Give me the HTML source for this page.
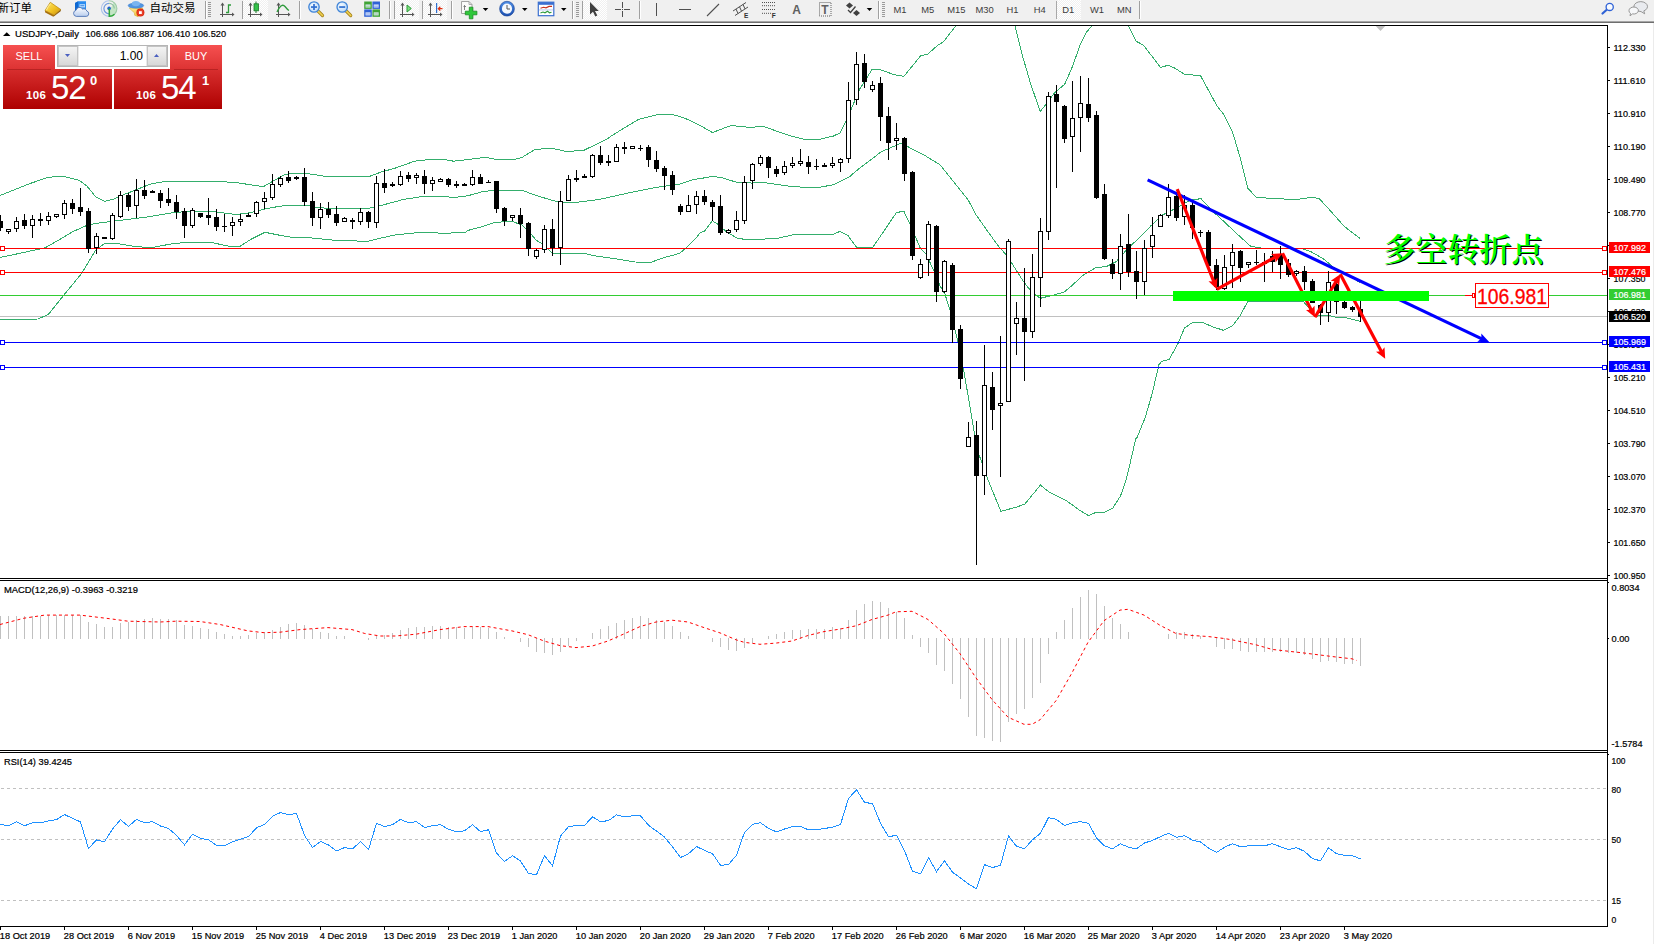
<!DOCTYPE html>
<html lang="zh"><head><meta charset="utf-8"><title>USDJPY Daily</title>
<style>
html,body{margin:0;padding:0;background:#fff;}
body{width:1654px;height:944px;overflow:hidden;position:relative;font-family:"Liberation Sans","Noto Sans CJK SC",sans-serif;}
#tb{position:absolute;left:0;top:0;width:1654px;height:21px;background:#f0f0f0;}
#tbl1{position:absolute;left:0;top:21px;width:1654px;height:1px;background:#a6a6a6;}
#tbl2{position:absolute;left:0;top:22px;width:1654px;height:1px;background:#6e6e6e;}
#redge{position:absolute;left:1653px;top:23px;width:1px;height:921px;background:#ebebeb}
#w{position:absolute;left:3px;top:45px;width:219px;height:64px;color:#fff}
#w .sell,#w .buy{position:absolute;top:0;width:52px;height:25px;background:linear-gradient(#f65050,#dc3232);text-align:center;font-size:11px;line-height:23px;}
#w .sell{left:0}#w .buy{left:167px}
#w .sell i,#w .buy i{position:absolute;left:4px;right:4px;bottom:0;height:1px;background:#b92222}
#w .vol{position:absolute;left:54px;top:0;width:111px;height:22px;background:#e9e9e9;border:1px solid #b5b5b5;box-sizing:border-box}
#w .vol .b{position:absolute;top:0;width:20px;height:20px;background:linear-gradient(#f4f4f4,#d8d8d8);border:1px solid #c4c4c4;box-sizing:border-box}
#w .vol .f{position:absolute;left:21px;top:0;width:67px;height:20px;background:#fff;color:#000;font-size:12px;line-height:21px;text-align:right;padding-right:3px;box-sizing:border-box}
#w .ps,#w .pb{position:absolute;top:24px;height:40px;background:linear-gradient(#d82f2f,#ae0000);}
#w .ps{left:0;width:109px}#w .pb{left:111px;width:108px}
#w .s{position:absolute;font-weight:bold;font-size:11.5px;top:21px;line-height:11px;letter-spacing:0.3px}
#w .l{position:absolute;font-size:33px;top:5px;line-height:28px;letter-spacing:-1.2px}
#w .u{position:absolute;font-weight:bold;font-size:13px;top:5px;line-height:13px}

</style></head><body>
<div id="tb"><svg width="1654" height="21" viewBox="0 0 1654 21" style="position:absolute;left:0;top:0" font-family='"Liberation Sans","Noto Sans CJK SC",sans-serif'>
<defs><pattern id="chk" width="2" height="2" patternUnits="userSpaceOnUse"><rect width="2" height="2" fill="#f0f0f0"/><rect width="1" height="1" fill="#fff"/><rect x="1" y="1" width="1" height="1" fill="#fff"/></pattern><linearGradient id="gold" x1="0" y1="0" x2="1" y2="1"><stop offset="0" stop-color="#ffe872"/><stop offset="0.55" stop-color="#f0c020"/><stop offset="1" stop-color="#c48c10"/></linearGradient><radialGradient id="lens" cx="0.4" cy="0.35" r="0.7"><stop offset="0" stop-color="#f4faff"/><stop offset="1" stop-color="#b9d8f6"/></radialGradient><linearGradient id="clk" x1="0" y1="0" x2="0" y2="1"><stop offset="0" stop-color="#4f8fe6"/><stop offset="1" stop-color="#1b4fb0"/></linearGradient><linearGradient id="cloud" x1="0" y1="0" x2="0" y2="1"><stop offset="0" stop-color="#ffffff"/><stop offset="1" stop-color="#b8cdee"/></linearGradient><linearGradient id="funnel" x1="0" y1="0" x2="1" y2="1"><stop offset="0" stop-color="#fff0a0"/><stop offset="1" stop-color="#f0b820"/></linearGradient></defs>
<g><polygon points="50.3,2.3 60.9,9.6 54.2,15.2 45,10.6" fill="url(#gold)" stroke="#b8860b" stroke-width="0.7"/><polygon points="45,10.6 54.2,15.2 53.4,16.8 45.2,12.4" fill="#a8700c"/><polygon points="54.2,15.2 60.9,9.6 60.6,11.2 53.4,16.8" fill="#8a5a08"/><path d="M50.6,3.6 q-2.6,2.6 -4.2,6.6" stroke="#fff2a8" stroke-width="0.9" fill="none"/></g>
<g><polygon points="75,3 78.2,1.3 86,1.3 86,10.5 75,10.5" fill="#2a8cf0"/><polygon points="75,3 78.2,1.3 78.2,10.5 75,10.5" fill="#0f68d0"/><rect x="79.5" y="4.2" width="5.5" height="3.2" fill="#bfe0ff"/><rect x="80.3" y="5.3" width="4" height="0.9" fill="#2a7ce0"/><path d="M76.3,16.4 a3.1,3.1 0 0 1 -0.3,-6.1 a3.6,3.6 0 0 1 6.6,-1.2 a3,3 0 0 1 4.2,2 a2.7,2.7 0 0 1 -0.6,5.3 z" fill="url(#cloud)" stroke="#4f74b4" stroke-width="0.9"/></g>
<g fill="none"><path d="M109,8.6 L109,16.6 A8,8 0 0 0 113.5,2 A8,8 0 0 1 109,8.6z" fill="#bfe3c0" opacity="0.9"/><path d="M109.1,0.8 A7.8,7.8 0 1 0 109.1,16.4" stroke="#aac2ea" stroke-width="1.1"/><path d="M109.1,3.4 A5.2,5.2 0 1 0 109.1,13.8" stroke="#6f98de" stroke-width="1.2"/><path d="M109.1,0.8 A7.8,7.8 0 0 1 116.9,8.6 A7.8,7.8 0 0 1 109.1,16.4" stroke="#9ccaa4" stroke-width="1.1"/><path d="M109.1,3.4 A5.2,5.2 0 0 1 114.3,8.6" stroke="#8fbfa0" stroke-width="1.1"/><circle cx="109.1" cy="8.4" r="1.8" fill="#1f5fd0"/><path d="M109.3,8.6 V16.3 A7.8,7.8 0 0 0 114.5,14.2" stroke="#2ea83a" stroke-width="1.5"/></g>
<g><path d="M129.2,8 h13.6 l-4.6,5 v3.8 l-3.6,-1.6 v-2.2 z" fill="url(#funnel)" stroke="#d0a020" stroke-width="0.5"/><ellipse cx="135.9" cy="5.6" rx="7.8" ry="2.6" fill="#4f95e2" stroke="#3a78c8" stroke-width="0.5"/><ellipse cx="135.9" cy="3.6" rx="4.1" ry="2.7" fill="#79b4f0"/><circle cx="140.4" cy="12.6" r="4" fill="#d8260f"/><circle cx="140.4" cy="12.6" r="3.2" fill="#e8402a"/><rect x="139" y="11.2" width="2.8" height="2.8" fill="#fff"/></g>
<rect x="205" y="1" width="1" height="18" fill="#a0a0a0" shape-rendering="crispEdges"/><rect x="206" y="1" width="1" height="18" fill="#fff" shape-rendering="crispEdges"/>
<rect x="208" y="2" width="3" height="1" fill="#9a9a9a" shape-rendering="crispEdges"/>
<rect x="208" y="4" width="3" height="1" fill="#9a9a9a" shape-rendering="crispEdges"/>
<rect x="208" y="6" width="3" height="1" fill="#9a9a9a" shape-rendering="crispEdges"/>
<rect x="208" y="8" width="3" height="1" fill="#9a9a9a" shape-rendering="crispEdges"/>
<rect x="208" y="10" width="3" height="1" fill="#9a9a9a" shape-rendering="crispEdges"/>
<rect x="208" y="12" width="3" height="1" fill="#9a9a9a" shape-rendering="crispEdges"/>
<rect x="208" y="14" width="3" height="1" fill="#9a9a9a" shape-rendering="crispEdges"/>
<rect x="208" y="16" width="3" height="1" fill="#9a9a9a" shape-rendering="crispEdges"/>
<g stroke="#555" stroke-width="1" fill="#555" shape-rendering="crispEdges"><line x1="222.5" y1="4" x2="222.5" y2="17"/><line x1="220" y1="14.5" x2="233" y2="14.5"/></g>
<polygon points="220.5,5.5 222.5,2.5 224.5,5.5" fill="#555"/><polygon points="232,12.5 234.5,14.5 232,16.5" fill="#555"/>
<path d="M226,12.5 h2.5 v-7.5 h2.5" fill="none" stroke="#2e9b3c" stroke-width="1.3"/>
<rect x="242" y="1" width="1" height="18" fill="#a0a0a0" shape-rendering="crispEdges"/><rect x="243" y="1" width="1" height="18" fill="#fff" shape-rendering="crispEdges"/>
<rect x="243" y="0" width="25" height="20" fill="url(#chk)"/>
<g stroke="#555" stroke-width="1" fill="#555" shape-rendering="crispEdges"><line x1="250.5" y1="4" x2="250.5" y2="17"/><line x1="248" y1="14.5" x2="261" y2="14.5"/></g>
<polygon points="248.5,5.5 250.5,2.5 252.5,5.5" fill="#555"/><polygon points="260,12.5 262.5,14.5 260,16.5" fill="#555"/>
<rect x="255.5" y="1.5" width="1" height="11.5" fill="#1c7a2a"/><rect x="254" y="3.8" width="4.5" height="7" fill="#34c24a" stroke="#1c7a2a" stroke-width="0.8"/>
<g stroke="#555" stroke-width="1" fill="#555" shape-rendering="crispEdges"><line x1="278.5" y1="4" x2="278.5" y2="17"/><line x1="276" y1="14.5" x2="289" y2="14.5"/></g>
<polygon points="276.5,5.5 278.5,2.5 280.5,5.5" fill="#555"/><polygon points="288,12.5 290.5,14.5 288,16.5" fill="#555"/>
<path d="M277,12 C280,5 283,4 285,6.5 S288,10 289,10.5" fill="none" stroke="#2e9b3c" stroke-width="1.3"/>
<rect x="299" y="1" width="1" height="18" fill="#a0a0a0" shape-rendering="crispEdges"/><rect x="300" y="1" width="1" height="18" fill="#fff" shape-rendering="crispEdges"/>
<line x1="317.5" y1="10.5" x2="322.5" y2="15.5" stroke="#a8861e" stroke-width="3.2" stroke-linecap="round"/><line x1="317.5" y1="10.5" x2="322.5" y2="15.5" stroke="#f0d050" stroke-width="1.6" stroke-linecap="round"/>
<circle cx="314" cy="7" r="5.2" fill="url(#lens)" stroke="#3f84d8" stroke-width="1.3"/>
<rect x="311" y="6.2" width="6" height="1.7" fill="#2f6fd0"/>
<rect x="313.15" y="4" width="1.7" height="6" fill="#2f6fd0"/>
<line x1="345.7" y1="10.5" x2="350.7" y2="15.5" stroke="#a8861e" stroke-width="3.2" stroke-linecap="round"/><line x1="345.7" y1="10.5" x2="350.7" y2="15.5" stroke="#f0d050" stroke-width="1.6" stroke-linecap="round"/>
<circle cx="342.2" cy="7" r="5.2" fill="url(#lens)" stroke="#3f84d8" stroke-width="1.3"/>
<rect x="339.2" y="6.2" width="6" height="1.7" fill="#2f6fd0"/>
<rect x="364.2" y="1.5" width="7.6" height="7.4" fill="#3fa335"/><rect x="365.5" y="4.5" width="5" height="3" fill="#e8f0ff"/><rect x="365.5" y="5.7" width="5" height="0.8" fill="#3fa335" opacity="0.7"/>
<rect x="372.4" y="1.5" width="7.6" height="7.4" fill="#2f62d6"/><rect x="373.7" y="4.5" width="5" height="3" fill="#e8f0ff"/><rect x="373.7" y="5.7" width="5" height="0.8" fill="#2f62d6" opacity="0.7"/>
<rect x="364.2" y="9.4" width="7.6" height="7.4" fill="#2f62d6"/><rect x="365.5" y="12.4" width="5" height="3" fill="#e8f0ff"/><rect x="365.5" y="13.600000000000001" width="5" height="0.8" fill="#2f62d6" opacity="0.7"/>
<rect x="372.4" y="9.4" width="7.6" height="7.4" fill="#3fa335"/><rect x="373.7" y="12.4" width="5" height="3" fill="#e8f0ff"/><rect x="373.7" y="13.600000000000001" width="5" height="0.8" fill="#3fa335" opacity="0.7"/>
<rect x="389" y="1" width="1" height="18" fill="#a0a0a0" shape-rendering="crispEdges"/><rect x="390" y="1" width="1" height="18" fill="#fff" shape-rendering="crispEdges"/>
<rect x="394" y="1" width="1" height="18" fill="#a0a0a0" shape-rendering="crispEdges"/><rect x="395" y="1" width="1" height="18" fill="#fff" shape-rendering="crispEdges"/>
<rect x="395" y="0" width="24" height="20" fill="url(#chk)"/>
<g stroke="#555" stroke-width="1" fill="#555" shape-rendering="crispEdges"><line x1="402.5" y1="4" x2="402.5" y2="17"/><line x1="400" y1="14.5" x2="413" y2="14.5"/></g>
<polygon points="400.5,5.5 402.5,2.5 404.5,5.5" fill="#555"/><polygon points="412,12.5 414.5,14.5 412,16.5" fill="#555"/>
<polygon points="407,5 411.3,8.5 407,12" fill="#7be07b" stroke="#2e9b3c" stroke-width="1"/>
<rect x="422" y="1" width="1" height="18" fill="#a0a0a0" shape-rendering="crispEdges"/><rect x="423" y="1" width="1" height="18" fill="#fff" shape-rendering="crispEdges"/>
<rect x="423" y="0" width="24" height="20" fill="url(#chk)"/>
<g stroke="#555" stroke-width="1" fill="#555" shape-rendering="crispEdges"><line x1="430.5" y1="4" x2="430.5" y2="17"/><line x1="428" y1="14.5" x2="441" y2="14.5"/></g>
<polygon points="428.5,5.5 430.5,2.5 432.5,5.5" fill="#555"/><polygon points="440,12.5 442.5,14.5 440,16.5" fill="#555"/>
<rect x="436" y="3" width="1.2" height="10" fill="#2f6fd0"/><path d="M442.5,8.7 h-4 M440.3,6.8 l-2,1.9 l2,1.9" stroke="#e03010" stroke-width="1.2" fill="none"/>
<rect x="451" y="1" width="1" height="18" fill="#a0a0a0" shape-rendering="crispEdges"/><rect x="452" y="1" width="1" height="18" fill="#fff" shape-rendering="crispEdges"/>
<path d="M461.5,1.5 h7.5 l3,3 v9 h-10.5 z" fill="#fafafa" stroke="#9a9a9a" stroke-width="0.9"/><path d="M469,1.5 v3 h3" fill="none" stroke="#9a9a9a" stroke-width="0.8"/><path d="M464.5,5 v5 M463.5,6.5 h2.5" stroke="#777" stroke-width="0.9"/>
<path d="M469.3,7.2 h3.6 v4 h4 v3.6 h-4 v4 h-3.6 v-4 h-4 v-3.6 h4 z" fill="#2fc83a" stroke="#168a20" stroke-width="0.8"/>
<polygon points="482.8,8 488.3,8 485.55,11" fill="#000"/>
<circle cx="507" cy="8.7" r="7.4" fill="url(#clk)" stroke="#173f92" stroke-width="0.6"/><circle cx="507" cy="8.7" r="5.1" fill="#f4f8fd"/><path d="M507,5 v4 h3" stroke="#555" stroke-width="1" fill="none"/>
<polygon points="522,8 527.5,8 524.75,11" fill="#000"/>
<rect x="538.3" y="2.2" width="15.5" height="13.5" fill="#fff" stroke="#3a6fd0" stroke-width="1.2"/><rect x="538.3" y="2.2" width="15.5" height="2.6" fill="#3a6fd0"/><path d="M540.5,8.2 l3,-1 l2.5,0.6 l3,-1.4 l3,0" stroke="#c8321e" stroke-width="1.1" fill="none"/><path d="M540.5,13 l2.5,-1 l2,0.8 l2.5,-1.6 l2,1.6 l2,-0.6" stroke="#2e9b3c" stroke-width="1.1" fill="none"/><rect x="538.8" y="9.6" width="14.5" height="0.7" fill="#9bb6e6"/>
<polygon points="561,8 566.5,8 563.75,11" fill="#000"/>
<rect x="572" y="1" width="1" height="18" fill="#a0a0a0" shape-rendering="crispEdges"/><rect x="573" y="1" width="1" height="18" fill="#fff" shape-rendering="crispEdges"/>
<rect x="576" y="2" width="3" height="1" fill="#9a9a9a" shape-rendering="crispEdges"/>
<rect x="576" y="4" width="3" height="1" fill="#9a9a9a" shape-rendering="crispEdges"/>
<rect x="576" y="6" width="3" height="1" fill="#9a9a9a" shape-rendering="crispEdges"/>
<rect x="576" y="8" width="3" height="1" fill="#9a9a9a" shape-rendering="crispEdges"/>
<rect x="576" y="10" width="3" height="1" fill="#9a9a9a" shape-rendering="crispEdges"/>
<rect x="576" y="12" width="3" height="1" fill="#9a9a9a" shape-rendering="crispEdges"/>
<rect x="576" y="14" width="3" height="1" fill="#9a9a9a" shape-rendering="crispEdges"/>
<rect x="576" y="16" width="3" height="1" fill="#9a9a9a" shape-rendering="crispEdges"/>
<rect x="582" y="1" width="1" height="18" fill="#a0a0a0" shape-rendering="crispEdges"/><rect x="583" y="1" width="1" height="18" fill="#fff" shape-rendering="crispEdges"/>
<rect x="583" y="0" width="24" height="20" fill="url(#chk)"/>
<polygon points="590,2 590,14.5 593,11.8 595.3,16.5 597.3,15.6 595,11 598.8,11" fill="#404040"/>
<g fill="#505050" shape-rendering="crispEdges"><rect x="622" y="2" width="1" height="6"/><rect x="622" y="11" width="1" height="6"/><rect x="615" y="9" width="6" height="1"/><rect x="624" y="9" width="6" height="1"/><rect x="622" y="9" width="1" height="1"/></g>
<rect x="639" y="1" width="1" height="18" fill="#a0a0a0" shape-rendering="crispEdges"/><rect x="640" y="1" width="1" height="18" fill="#fff" shape-rendering="crispEdges"/>
<g fill="#505050" shape-rendering="crispEdges"><rect x="656" y="3" width="1" height="13"/><rect x="679" y="9" width="12" height="1"/></g>
<line x1="707" y1="16" x2="719" y2="4" stroke="#505050" stroke-width="1.1"/>
<g stroke="#505050" stroke-width="1" fill="none"><line x1="733" y1="11" x2="746" y2="2.5"/><line x1="735" y1="15.5" x2="748" y2="7"/><line x1="736" y1="9" x2="738" y2="13.5"/><line x1="739.5" y1="6.7" x2="741.5" y2="11.2"/><line x1="743" y1="4.4" x2="745" y2="8.9"/></g>
<text x="744" y="17.8" font-size="6.5px" font-weight="bold" fill="#303030">E</text>
<line x1="762" y1="2.5" x2="775" y2="2.5" stroke="#505050" stroke-width="1" stroke-dasharray="1,1"/>
<line x1="762" y1="5.7" x2="775" y2="5.7" stroke="#505050" stroke-width="1" stroke-dasharray="1,1"/>
<line x1="762" y1="9.5" x2="775" y2="9.5" stroke="#505050" stroke-width="1" stroke-dasharray="1,1"/>
<line x1="762" y1="13.3" x2="771" y2="13.3" stroke="#505050" stroke-width="1" stroke-dasharray="1,1"/>
<text x="771.8" y="17.8" font-size="6.5px" font-weight="bold" fill="#303030">F</text>
<text x="792.3" y="13.8" font-size="12px" font-weight="bold" fill="#606060">A</text>
<rect x="819.5" y="2.5" width="11.5" height="13.5" fill="none" stroke="#606060" stroke-width="1" stroke-dasharray="1,1"/><text x="821.3" y="13.8" font-size="12px" font-weight="bold" fill="#606060">T</text>
<g fill="#404040"><polygon points="849.5,2.5 853,5.5 849.5,8.5 846,5.5"/><polygon points="856.5,10 860,13 856.5,16 853,13"/></g><path d="M848,10 l2.5,2.5 l5,-6" stroke="#404040" stroke-width="1.3" fill="none"/>
<polygon points="866.7,8 872.2,8 869.45,11" fill="#000"/>
<rect x="878" y="1" width="1" height="18" fill="#a0a0a0" shape-rendering="crispEdges"/><rect x="879" y="1" width="1" height="18" fill="#fff" shape-rendering="crispEdges"/>
<rect x="882" y="2" width="3" height="1" fill="#9a9a9a" shape-rendering="crispEdges"/>
<rect x="882" y="4" width="3" height="1" fill="#9a9a9a" shape-rendering="crispEdges"/>
<rect x="882" y="6" width="3" height="1" fill="#9a9a9a" shape-rendering="crispEdges"/>
<rect x="882" y="8" width="3" height="1" fill="#9a9a9a" shape-rendering="crispEdges"/>
<rect x="882" y="10" width="3" height="1" fill="#9a9a9a" shape-rendering="crispEdges"/>
<rect x="882" y="12" width="3" height="1" fill="#9a9a9a" shape-rendering="crispEdges"/>
<rect x="882" y="14" width="3" height="1" fill="#9a9a9a" shape-rendering="crispEdges"/>
<rect x="882" y="16" width="3" height="1" fill="#9a9a9a" shape-rendering="crispEdges"/>
<rect x="1057" y="0" width="24" height="20" fill="url(#chk)"/>
<rect x="1056" y="1" width="1" height="18" fill="#a8a8a8" shape-rendering="crispEdges"/>
<text x="899.9" y="12.8" font-size="9.4px" fill="#3c3c3c" text-anchor="middle">M1</text>
<text x="927.7" y="12.8" font-size="9.4px" fill="#3c3c3c" text-anchor="middle">M5</text>
<text x="956.4" y="12.8" font-size="9.4px" fill="#3c3c3c" text-anchor="middle">M15</text>
<text x="984.5" y="12.8" font-size="9.4px" fill="#3c3c3c" text-anchor="middle">M30</text>
<text x="1012.4" y="12.8" font-size="9.4px" fill="#3c3c3c" text-anchor="middle">H1</text>
<text x="1039.8" y="12.8" font-size="9.4px" fill="#3c3c3c" text-anchor="middle">H4</text>
<text x="1068.2" y="12.8" font-size="9.4px" fill="#3c3c3c" text-anchor="middle">D1</text>
<text x="1097" y="12.8" font-size="9.4px" fill="#3c3c3c" text-anchor="middle">W1</text>
<text x="1124.2" y="12.8" font-size="9.4px" fill="#3c3c3c" text-anchor="middle">MN</text>
<rect x="1139" y="1" width="1" height="18" fill="#a0a0a0" shape-rendering="crispEdges"/><rect x="1140" y="1" width="1" height="18" fill="#fff" shape-rendering="crispEdges"/>
<line x1="1602.5" y1="13.5" x2="1607" y2="9.5" stroke="#2f62d6" stroke-width="2.2" stroke-linecap="round"/><circle cx="1609.7" cy="6.9" r="3.6" fill="#f8fbff" stroke="#2f62d6" stroke-width="1.3"/>
<g stroke="#8c8c8c" stroke-width="0.9"><path d="M1634.2,8 a6.8,4.9 0 1 1 9.6,2.9 l0.9,2.9 l-3.6,-2.2 a7,5 0 0 1 -6.9,-3.6z" fill="#e9ebef"/><path d="M1629,10.6 a4.7,3.5 0 1 1 3.5,3.3 l-2.5,1.9 l0.5,-2.5 a4,3 0 0 1 -1.5,-2.7z" fill="#f6f7f9"/></g>
<text x="-2.5" y="12.3" font-size="11.5px" fill="#000">新订单</text>
<text x="149.5" y="12.3" font-size="11.5px" fill="#000">自动交易</text>
</svg></div><div id="tbl1"></div><div id="tbl2"></div><div id="redge"></div>
<svg id="chart" width="1654" height="944" viewBox="0 0 1654 944" style="position:absolute;left:0;top:0" font-family='"Liberation Sans","Noto Sans CJK SC",sans-serif' font-size="9.8px">
<defs><clipPath id="cm"><rect x="0" y="26" width="1607" height="552"/></clipPath><clipPath id="c2"><rect x="0" y="581" width="1607" height="169"/></clipPath><clipPath id="c3"><rect x="0" y="753" width="1607" height="173"/></clipPath></defs>
<g clip-path="url(#cm)">
<rect x="0" y="316" width="1607" height="1" fill="#c0c0c0"/>
<polyline points="0.0,195.5 14.5,189.7 29.0,183.9 47.9,177.4 62.4,176.0 79.0,180.3 87.0,186.1 95.8,197.0 104.5,201.4 113.2,199.2 123.3,194.8 136.4,189.7 150.9,183.9 165.4,181.5 217.6,181.5 236.0,182.5 250.5,184.8 263.6,186.6 273.7,180.8 283.9,175.0 294.0,173.1 304.2,173.1 326.0,176.4 369.5,176.4 381.0,172.1 395.6,168.0 414.5,161.2 429.0,159.5 445.0,159.7 453.6,161.2 468.0,159.5 485.4,157.3 497.0,159.5 514.4,159.5 521.7,157.6 534.7,149.6 550.7,148.1 566.7,151.5 584.0,150.3 595.7,144.5 607.3,139.0 612.0,135.5 624.2,128.0 638.7,119.3 655.6,115.0 672.6,114.5 684.6,118.1 699.2,125.0 712.5,132.5 731.0,125.5 749.3,127.3 763.8,126.6 790.0,135.8 806.0,139.7 819.0,139.4 833.5,136.0 840.0,132.9 845.0,123.4 851.6,108.2 859.6,89.3 872.0,69.5 880.0,69.5 894.4,74.8 903.9,76.3 920.5,56.0 927.8,54.1 938.0,45.0 943.4,41.9 955.5,26.2 960.0,15.0 1012.0,15.0 1014.7,25.0 1022.4,55.5 1030.8,84.3 1040.2,111.4 1047.8,102.1 1054.6,92.8 1064.7,84.3 1071.5,69.0 1080.0,45.3 1086.8,31.8 1091.9,25.8 1096.0,15.0 1124.0,15.0 1128.3,25.8 1135.9,41.1 1143.6,45.3 1160.5,67.4 1168.1,65.3 1174.9,68.2 1185.1,74.7 1200.3,75.3 1217.3,106.4 1224.1,114.8 1232.5,131.8 1241.0,160.6 1246.9,185.0 1247.7,188.1 1256.3,197.3 1273.4,198.6 1296.3,199.5 1311.6,197.3 1319.2,198.6 1330.6,211.0 1344.0,226.2 1360.2,238.6" fill="none" stroke="#34ae6c" stroke-width="1" shape-rendering="crispEdges"/>
<polyline points="0.0,257.5 21.8,252.9 45.0,247.8 58.0,240.5 72.5,231.8 85.6,226.0 94.3,223.6 116.0,220.9 145.0,217.3 174.0,212.5 188.6,211.5 210.4,211.1 236.0,214.6 250.5,212.7 265.0,209.1 279.5,206.2 294.0,205.0 305.6,205.0 317.3,207.6 337.6,208.8 366.6,208.8 381.0,205.5 402.9,199.6 421.7,196.5 445.0,196.5 453.6,197.5 468.0,195.7 482.5,191.7 494.0,190.2 521.7,190.2 537.6,196.0 555.0,201.1 562.3,202.1 578.3,202.1 598.6,199.6 627.6,193.1 656.6,187.3 678.4,184.4 694.3,179.3 700.0,178.6 713.0,176.4 721.8,177.6 736.3,182.2 752.2,183.1 761.0,182.2 790.0,186.3 806.0,187.4 819.0,187.3 833.5,184.8 849.4,176.8 859.6,168.1 874.0,157.3 881.4,151.7 901.7,143.0 910.4,148.1 923.4,154.6 940.0,164.8 968.2,200.0 975.4,213.8 987.0,230.5 998.7,246.4 1005.9,254.4 1011.7,263.1 1023.3,281.3 1030.6,290.7 1036.4,295.8 1040.7,298.2 1053.8,295.0 1064.0,292.1 1071.2,286.3 1082.8,275.4 1095.9,267.5 1106.0,266.7 1116.2,261.7 1126.3,250.1 1140.0,237.0 1151.4,225.3 1162.9,214.8 1178.1,207.2 1189.6,200.5 1201.0,198.6 1212.4,211.0 1223.9,221.5 1239.1,235.8 1250.6,246.2 1262.0,248.2 1302.0,248.5 1311.6,252.0 1323.0,258.6 1338.2,271.0 1349.7,276.7 1360.2,282.5" fill="none" stroke="#34ae6c" stroke-width="1" shape-rendering="crispEdges"/>
<polyline points="0.0,319.6 38.0,319.0 48.3,314.5 63.6,295.4 81.4,273.8 95.8,250.0 104.5,243.4 116.0,243.4 133.5,246.3 150.9,247.8 174.0,243.4 191.5,242.3 210.4,242.3 229.3,246.3 240.4,246.1 250.5,239.5 265.0,232.3 279.5,235.2 294.0,237.7 308.5,237.7 323.0,239.1 337.6,240.6 352.0,240.6 366.6,241.7 381.0,238.1 395.6,234.8 421.7,232.3 445.0,233.3 465.3,232.3 468.0,230.4 482.5,226.5 494.0,222.6 511.5,221.1 521.7,225.0 529.0,231.6 536.2,240.3 543.4,244.6 552.2,253.3 584.0,253.3 594.2,255.8 613.0,258.4 634.9,262.0 650.8,262.3 663.9,257.7 679.8,253.3 685.6,248.3 697.3,236.6 700.0,232.7 704.4,231.3 712.3,220.7 717.4,224.0 726.0,231.3 736.3,237.8 743.5,239.2 762.4,239.2 778.3,238.1 794.3,234.6 833.5,234.2 840.0,231.3 848.0,235.6 856.7,247.5 872.7,247.5 882.8,232.7 896.6,212.4 903.9,211.4 910.4,224.7 916.2,238.5 920.5,248.7 926.3,254.5 933.6,270.4 940.0,285.7 945.0,294.3 950.0,310.3 958.0,341.9 963.8,370.9 969.6,404.3 974.7,434.8 979.0,454.7 987.0,477.2 1000.8,511.3 1016.0,507.3 1024.8,504.0 1040.5,485.1 1049.4,492.4 1056.7,496.0 1066.1,500.4 1079.9,510.5 1088.6,515.6 1095.9,512.4 1103.9,512.4 1112.6,508.4 1120.5,496.0 1126.3,479.3 1132.1,454.7 1135.8,438.7 1137.0,437.5 1145.4,417.1 1152.2,393.4 1159.0,364.6 1161.5,361.5 1169.2,359.5 1178.5,342.5 1184.4,328.1 1192.9,322.2 1202.2,322.2 1211.5,326.4 1223.4,330.3 1232.7,325.6 1240.3,315.4 1248.0,301.0 1303.0,301.0 1308.1,307.0 1314.9,316.3 1326.8,315.1 1335.3,317.1 1347.1,318.0 1360.7,321.4" fill="none" stroke="#34ae6c" stroke-width="1" shape-rendering="crispEdges"/>
<rect x="0" y="248" width="1607" height="1" fill="#ff0000" shape-rendering="crispEdges"/>
<rect x="0" y="272" width="1607" height="1" fill="#ff0000" shape-rendering="crispEdges"/>
<rect x="0" y="295" width="1607" height="1" fill="#32cd32" shape-rendering="crispEdges"/>
<rect x="0" y="342" width="1607" height="1" fill="#0000ff" shape-rendering="crispEdges"/>
<rect x="0" y="367" width="1607" height="1" fill="#0000ff" shape-rendering="crispEdges"/>
<rect x="0.0" y="246.5" width="4" height="4" fill="#fff" stroke="#ff0000" stroke-width="1" shape-rendering="crispEdges"/>
<rect x="1602.5" y="246.5" width="4" height="4" fill="#fff" stroke="#ff0000" stroke-width="1" shape-rendering="crispEdges"/>
<rect x="0.0" y="270.5" width="4" height="4" fill="#fff" stroke="#ff0000" stroke-width="1" shape-rendering="crispEdges"/>
<rect x="1602.5" y="270.5" width="4" height="4" fill="#fff" stroke="#ff0000" stroke-width="1" shape-rendering="crispEdges"/>
<rect x="0.0" y="340.5" width="4" height="4" fill="#fff" stroke="#0000ff" stroke-width="1" shape-rendering="crispEdges"/>
<rect x="1602.5" y="340.5" width="4" height="4" fill="#fff" stroke="#0000ff" stroke-width="1" shape-rendering="crispEdges"/>
<rect x="0.0" y="365.5" width="4" height="4" fill="#fff" stroke="#0000ff" stroke-width="1" shape-rendering="crispEdges"/>
<rect x="1602.5" y="365.5" width="4" height="4" fill="#fff" stroke="#0000ff" stroke-width="1" shape-rendering="crispEdges"/>
<g shape-rendering="crispEdges">
<rect x="0" y="215" width="1" height="16" fill="#000"/>
<rect x="-2" y="221" width="5" height="7" fill="#000"/>
<rect x="8" y="230" width="1" height="4" fill="#000"/>
<rect x="6" y="229" width="5" height="3" fill="#000"/>
<rect x="7" y="230" width="3" height="1" fill="#fff"/>
<rect x="16" y="217" width="1" height="15" fill="#000"/>
<rect x="14" y="221" width="5" height="8" fill="#000"/>
<rect x="15" y="222" width="3" height="6" fill="#fff"/>
<rect x="24" y="214" width="1" height="15" fill="#000"/>
<rect x="22" y="220" width="5" height="6" fill="#000"/>
<rect x="32" y="215" width="1" height="23" fill="#000"/>
<rect x="30" y="219" width="5" height="7" fill="#000"/>
<rect x="31" y="220" width="3" height="5" fill="#fff"/>
<rect x="40" y="213" width="1" height="13" fill="#000"/>
<rect x="38" y="219" width="5" height="2" fill="#000"/>
<rect x="48" y="212" width="1" height="13" fill="#000"/>
<rect x="46" y="216" width="5" height="5" fill="#000"/>
<rect x="47" y="217" width="3" height="3" fill="#fff"/>
<rect x="56" y="214" width="1" height="4" fill="#000"/>
<rect x="54" y="214" width="5" height="3" fill="#000"/>
<rect x="55" y="215" width="3" height="1" fill="#fff"/>
<rect x="64" y="200" width="1" height="19" fill="#000"/>
<rect x="62" y="203" width="5" height="12" fill="#000"/>
<rect x="63" y="204" width="3" height="10" fill="#fff"/>
<rect x="72" y="199" width="1" height="15" fill="#000"/>
<rect x="70" y="203" width="5" height="6" fill="#000"/>
<rect x="80" y="188" width="1" height="28" fill="#000"/>
<rect x="78" y="207" width="5" height="5" fill="#000"/>
<rect x="88" y="208" width="1" height="45" fill="#000"/>
<rect x="86" y="211" width="5" height="38" fill="#000"/>
<rect x="96" y="233" width="1" height="21" fill="#000"/>
<rect x="94" y="236" width="5" height="12" fill="#000"/>
<rect x="95" y="237" width="3" height="10" fill="#fff"/>
<rect x="104" y="237" width="1" height="2" fill="#000"/>
<rect x="102" y="237" width="5" height="2" fill="#000"/>
<rect x="112" y="213" width="1" height="27" fill="#000"/>
<rect x="110" y="215" width="5" height="24" fill="#000"/>
<rect x="111" y="216" width="3" height="22" fill="#fff"/>
<rect x="120" y="191" width="1" height="27" fill="#000"/>
<rect x="118" y="195" width="5" height="22" fill="#000"/>
<rect x="119" y="196" width="3" height="20" fill="#fff"/>
<rect x="128" y="193" width="1" height="18" fill="#000"/>
<rect x="126" y="195" width="5" height="12" fill="#000"/>
<rect x="136" y="179" width="1" height="39" fill="#000"/>
<rect x="134" y="190" width="5" height="16" fill="#000"/>
<rect x="135" y="191" width="3" height="14" fill="#fff"/>
<rect x="144" y="180" width="1" height="19" fill="#000"/>
<rect x="142" y="190" width="5" height="6" fill="#000"/>
<rect x="152" y="190" width="1" height="2" fill="#000"/>
<rect x="150" y="191" width="5" height="2" fill="#000"/>
<rect x="160" y="190" width="1" height="18" fill="#000"/>
<rect x="158" y="193" width="5" height="8" fill="#000"/>
<rect x="168" y="188" width="1" height="18" fill="#000"/>
<rect x="166" y="199" width="5" height="4" fill="#000"/>
<rect x="176" y="195" width="1" height="24" fill="#000"/>
<rect x="174" y="202" width="5" height="10" fill="#000"/>
<rect x="184" y="208" width="1" height="30" fill="#000"/>
<rect x="182" y="211" width="5" height="15" fill="#000"/>
<rect x="192" y="208" width="1" height="20" fill="#000"/>
<rect x="190" y="210" width="5" height="16" fill="#000"/>
<rect x="191" y="211" width="3" height="14" fill="#fff"/>
<rect x="200" y="213" width="1" height="5" fill="#000"/>
<rect x="198" y="213" width="5" height="4" fill="#000"/>
<rect x="208" y="198" width="1" height="27" fill="#000"/>
<rect x="206" y="215" width="5" height="3" fill="#000"/>
<rect x="216" y="209" width="1" height="22" fill="#000"/>
<rect x="214" y="217" width="5" height="10" fill="#000"/>
<rect x="224" y="214" width="1" height="18" fill="#000"/>
<rect x="222" y="226" width="5" height="1" fill="#000"/>
<rect x="232" y="217" width="1" height="19" fill="#000"/>
<rect x="230" y="222" width="5" height="4" fill="#000"/>
<rect x="231" y="223" width="3" height="2" fill="#fff"/>
<rect x="240" y="214" width="1" height="12" fill="#000"/>
<rect x="238" y="219" width="5" height="3" fill="#000"/>
<rect x="239" y="220" width="3" height="1" fill="#fff"/>
<rect x="248" y="213" width="1" height="4" fill="#000"/>
<rect x="246" y="215" width="5" height="2" fill="#000"/>
<rect x="256" y="201" width="1" height="16" fill="#000"/>
<rect x="254" y="202" width="5" height="12" fill="#000"/>
<rect x="255" y="203" width="3" height="10" fill="#fff"/>
<rect x="264" y="192" width="1" height="17" fill="#000"/>
<rect x="262" y="198" width="5" height="4" fill="#000"/>
<rect x="263" y="199" width="3" height="2" fill="#fff"/>
<rect x="272" y="174" width="1" height="26" fill="#000"/>
<rect x="270" y="184" width="5" height="14" fill="#000"/>
<rect x="271" y="185" width="3" height="12" fill="#fff"/>
<rect x="280" y="176" width="1" height="11" fill="#000"/>
<rect x="278" y="178" width="5" height="7" fill="#000"/>
<rect x="279" y="179" width="3" height="5" fill="#fff"/>
<rect x="288" y="171" width="1" height="12" fill="#000"/>
<rect x="286" y="177" width="5" height="4" fill="#000"/>
<rect x="296" y="176" width="1" height="4" fill="#000"/>
<rect x="294" y="177" width="5" height="2" fill="#000"/>
<rect x="304" y="168" width="1" height="38" fill="#000"/>
<rect x="302" y="177" width="5" height="25" fill="#000"/>
<rect x="312" y="192" width="1" height="34" fill="#000"/>
<rect x="310" y="201" width="5" height="17" fill="#000"/>
<rect x="320" y="203" width="1" height="26" fill="#000"/>
<rect x="318" y="209" width="5" height="9" fill="#000"/>
<rect x="319" y="210" width="3" height="7" fill="#fff"/>
<rect x="328" y="202" width="1" height="16" fill="#000"/>
<rect x="326" y="209" width="5" height="6" fill="#000"/>
<rect x="336" y="206" width="1" height="20" fill="#000"/>
<rect x="334" y="214" width="5" height="9" fill="#000"/>
<rect x="344" y="217" width="1" height="5" fill="#000"/>
<rect x="342" y="218" width="5" height="4" fill="#000"/>
<rect x="343" y="219" width="3" height="2" fill="#fff"/>
<rect x="352" y="218" width="1" height="11" fill="#000"/>
<rect x="350" y="220" width="5" height="2" fill="#000"/>
<rect x="360" y="208" width="1" height="17" fill="#000"/>
<rect x="358" y="212" width="5" height="10" fill="#000"/>
<rect x="359" y="213" width="3" height="8" fill="#fff"/>
<rect x="368" y="211" width="1" height="17" fill="#000"/>
<rect x="366" y="212" width="5" height="10" fill="#000"/>
<rect x="376" y="176" width="1" height="52" fill="#000"/>
<rect x="374" y="183" width="5" height="40" fill="#000"/>
<rect x="375" y="184" width="3" height="38" fill="#fff"/>
<rect x="384" y="169" width="1" height="24" fill="#000"/>
<rect x="382" y="183" width="5" height="5" fill="#000"/>
<rect x="392" y="182" width="1" height="5" fill="#000"/>
<rect x="390" y="184" width="5" height="2" fill="#000"/>
<rect x="400" y="171" width="1" height="15" fill="#000"/>
<rect x="398" y="176" width="5" height="9" fill="#000"/>
<rect x="399" y="177" width="3" height="7" fill="#fff"/>
<rect x="408" y="172" width="1" height="10" fill="#000"/>
<rect x="406" y="175" width="5" height="4" fill="#000"/>
<rect x="416" y="173" width="1" height="11" fill="#000"/>
<rect x="414" y="175" width="5" height="3" fill="#000"/>
<rect x="415" y="176" width="3" height="1" fill="#fff"/>
<rect x="424" y="170" width="1" height="24" fill="#000"/>
<rect x="422" y="176" width="5" height="8" fill="#000"/>
<rect x="432" y="177" width="1" height="14" fill="#000"/>
<rect x="430" y="180" width="5" height="4" fill="#000"/>
<rect x="431" y="181" width="3" height="2" fill="#fff"/>
<rect x="440" y="178" width="1" height="4" fill="#000"/>
<rect x="438" y="179" width="5" height="3" fill="#000"/>
<rect x="439" y="180" width="3" height="1" fill="#fff"/>
<rect x="448" y="178" width="1" height="9" fill="#000"/>
<rect x="446" y="179" width="5" height="6" fill="#000"/>
<rect x="456" y="181" width="1" height="7" fill="#000"/>
<rect x="454" y="184" width="5" height="2" fill="#000"/>
<rect x="464" y="183" width="1" height="3" fill="#000"/>
<rect x="462" y="184" width="5" height="2" fill="#000"/>
<rect x="472" y="170" width="1" height="16" fill="#000"/>
<rect x="470" y="177" width="5" height="8" fill="#000"/>
<rect x="471" y="178" width="3" height="6" fill="#fff"/>
<rect x="480" y="174" width="1" height="9" fill="#000"/>
<rect x="478" y="177" width="5" height="7" fill="#000"/>
<rect x="488" y="180" width="1" height="2" fill="#000"/>
<rect x="486" y="182" width="5" height="1" fill="#000"/>
<rect x="496" y="181" width="1" height="32" fill="#000"/>
<rect x="494" y="181" width="5" height="28" fill="#000"/>
<rect x="504" y="207" width="1" height="19" fill="#000"/>
<rect x="502" y="208" width="5" height="13" fill="#000"/>
<rect x="512" y="216" width="1" height="5" fill="#000"/>
<rect x="510" y="215" width="5" height="3" fill="#000"/>
<rect x="511" y="216" width="3" height="1" fill="#fff"/>
<rect x="520" y="208" width="1" height="30" fill="#000"/>
<rect x="518" y="215" width="5" height="9" fill="#000"/>
<rect x="528" y="222" width="1" height="34" fill="#000"/>
<rect x="526" y="223" width="5" height="26" fill="#000"/>
<rect x="536" y="249" width="1" height="10" fill="#000"/>
<rect x="534" y="250" width="5" height="7" fill="#000"/>
<rect x="535" y="251" width="3" height="5" fill="#fff"/>
<rect x="544" y="225" width="1" height="28" fill="#000"/>
<rect x="542" y="229" width="5" height="21" fill="#000"/>
<rect x="543" y="230" width="3" height="19" fill="#fff"/>
<rect x="552" y="219" width="1" height="37" fill="#000"/>
<rect x="550" y="229" width="5" height="19" fill="#000"/>
<rect x="560" y="191" width="1" height="74" fill="#000"/>
<rect x="558" y="201" width="5" height="47" fill="#000"/>
<rect x="559" y="202" width="3" height="45" fill="#fff"/>
<rect x="568" y="175" width="1" height="26" fill="#000"/>
<rect x="566" y="179" width="5" height="22" fill="#000"/>
<rect x="567" y="180" width="3" height="20" fill="#fff"/>
<rect x="576" y="170" width="1" height="12" fill="#000"/>
<rect x="574" y="178" width="5" height="2" fill="#000"/>
<rect x="584" y="174" width="1" height="4" fill="#000"/>
<rect x="582" y="176" width="5" height="2" fill="#000"/>
<rect x="592" y="154" width="1" height="24" fill="#000"/>
<rect x="590" y="155" width="5" height="22" fill="#000"/>
<rect x="591" y="156" width="3" height="20" fill="#fff"/>
<rect x="600" y="146" width="1" height="19" fill="#000"/>
<rect x="598" y="155" width="5" height="8" fill="#000"/>
<rect x="608" y="155" width="1" height="11" fill="#000"/>
<rect x="606" y="161" width="5" height="2" fill="#000"/>
<rect x="616" y="144" width="1" height="18" fill="#000"/>
<rect x="614" y="147" width="5" height="15" fill="#000"/>
<rect x="615" y="148" width="3" height="13" fill="#fff"/>
<rect x="624" y="142" width="1" height="12" fill="#000"/>
<rect x="622" y="147" width="5" height="2" fill="#000"/>
<rect x="632" y="146" width="1" height="3" fill="#000"/>
<rect x="630" y="146" width="5" height="3" fill="#000"/>
<rect x="631" y="147" width="3" height="1" fill="#fff"/>
<rect x="640" y="145" width="1" height="6" fill="#000"/>
<rect x="638" y="148" width="5" height="1" fill="#000"/>
<rect x="648" y="145" width="1" height="22" fill="#000"/>
<rect x="646" y="147" width="5" height="13" fill="#000"/>
<rect x="656" y="151" width="1" height="21" fill="#000"/>
<rect x="654" y="160" width="5" height="9" fill="#000"/>
<rect x="664" y="166" width="1" height="24" fill="#000"/>
<rect x="662" y="168" width="5" height="8" fill="#000"/>
<rect x="672" y="171" width="1" height="24" fill="#000"/>
<rect x="670" y="175" width="5" height="15" fill="#000"/>
<rect x="680" y="204" width="1" height="11" fill="#000"/>
<rect x="678" y="206" width="5" height="6" fill="#000"/>
<rect x="688" y="195" width="1" height="17" fill="#000"/>
<rect x="686" y="205" width="5" height="7" fill="#000"/>
<rect x="687" y="206" width="3" height="5" fill="#fff"/>
<rect x="696" y="191" width="1" height="23" fill="#000"/>
<rect x="694" y="196" width="5" height="9" fill="#000"/>
<rect x="695" y="197" width="3" height="7" fill="#fff"/>
<rect x="704" y="190" width="1" height="15" fill="#000"/>
<rect x="702" y="196" width="5" height="6" fill="#000"/>
<rect x="712" y="200" width="1" height="21" fill="#000"/>
<rect x="710" y="202" width="5" height="5" fill="#000"/>
<rect x="720" y="195" width="1" height="40" fill="#000"/>
<rect x="718" y="206" width="5" height="27" fill="#000"/>
<rect x="728" y="229" width="1" height="5" fill="#000"/>
<rect x="726" y="230" width="5" height="3" fill="#000"/>
<rect x="727" y="231" width="3" height="1" fill="#fff"/>
<rect x="736" y="211" width="1" height="21" fill="#000"/>
<rect x="734" y="220" width="5" height="10" fill="#000"/>
<rect x="735" y="221" width="3" height="8" fill="#fff"/>
<rect x="744" y="176" width="1" height="48" fill="#000"/>
<rect x="742" y="182" width="5" height="39" fill="#000"/>
<rect x="743" y="183" width="3" height="37" fill="#fff"/>
<rect x="752" y="163" width="1" height="26" fill="#000"/>
<rect x="750" y="164" width="5" height="17" fill="#000"/>
<rect x="751" y="165" width="3" height="15" fill="#fff"/>
<rect x="760" y="155" width="1" height="11" fill="#000"/>
<rect x="758" y="157" width="5" height="7" fill="#000"/>
<rect x="759" y="158" width="3" height="5" fill="#fff"/>
<rect x="768" y="156" width="1" height="22" fill="#000"/>
<rect x="766" y="157" width="5" height="11" fill="#000"/>
<rect x="776" y="166" width="1" height="11" fill="#000"/>
<rect x="774" y="169" width="5" height="5" fill="#000"/>
<rect x="784" y="161" width="1" height="14" fill="#000"/>
<rect x="782" y="166" width="5" height="7" fill="#000"/>
<rect x="783" y="167" width="3" height="5" fill="#fff"/>
<rect x="792" y="157" width="1" height="11" fill="#000"/>
<rect x="790" y="163" width="5" height="3" fill="#000"/>
<rect x="791" y="164" width="3" height="1" fill="#fff"/>
<rect x="800" y="149" width="1" height="17" fill="#000"/>
<rect x="798" y="161" width="5" height="3" fill="#000"/>
<rect x="799" y="162" width="3" height="1" fill="#fff"/>
<rect x="808" y="156" width="1" height="18" fill="#000"/>
<rect x="806" y="162" width="5" height="5" fill="#000"/>
<rect x="816" y="159" width="1" height="11" fill="#000"/>
<rect x="814" y="166" width="5" height="1" fill="#000"/>
<rect x="824" y="163" width="1" height="3" fill="#000"/>
<rect x="822" y="165" width="5" height="2" fill="#000"/>
<rect x="832" y="157" width="1" height="11" fill="#000"/>
<rect x="830" y="163" width="5" height="3" fill="#000"/>
<rect x="831" y="164" width="3" height="1" fill="#fff"/>
<rect x="840" y="158" width="1" height="14" fill="#000"/>
<rect x="838" y="159" width="5" height="4" fill="#000"/>
<rect x="839" y="160" width="3" height="2" fill="#fff"/>
<rect x="848" y="82" width="1" height="81" fill="#000"/>
<rect x="846" y="100" width="5" height="59" fill="#000"/>
<rect x="847" y="101" width="3" height="57" fill="#fff"/>
<rect x="856" y="52" width="1" height="53" fill="#000"/>
<rect x="854" y="64" width="5" height="36" fill="#000"/>
<rect x="855" y="65" width="3" height="34" fill="#fff"/>
<rect x="864" y="54" width="1" height="34" fill="#000"/>
<rect x="862" y="63" width="5" height="19" fill="#000"/>
<rect x="872" y="81" width="1" height="11" fill="#000"/>
<rect x="870" y="85" width="5" height="5" fill="#000"/>
<rect x="871" y="86" width="3" height="3" fill="#fff"/>
<rect x="880" y="77" width="1" height="64" fill="#000"/>
<rect x="878" y="83" width="5" height="34" fill="#000"/>
<rect x="888" y="107" width="1" height="53" fill="#000"/>
<rect x="886" y="116" width="5" height="27" fill="#000"/>
<rect x="896" y="123" width="1" height="27" fill="#000"/>
<rect x="894" y="138" width="5" height="3" fill="#000"/>
<rect x="895" y="139" width="3" height="1" fill="#fff"/>
<rect x="904" y="137" width="1" height="44" fill="#000"/>
<rect x="902" y="138" width="5" height="36" fill="#000"/>
<rect x="912" y="171" width="1" height="89" fill="#000"/>
<rect x="910" y="172" width="5" height="84" fill="#000"/>
<rect x="920" y="259" width="1" height="20" fill="#000"/>
<rect x="918" y="264" width="5" height="14" fill="#000"/>
<rect x="919" y="265" width="3" height="12" fill="#fff"/>
<rect x="928" y="221" width="1" height="55" fill="#000"/>
<rect x="926" y="224" width="5" height="36" fill="#000"/>
<rect x="927" y="225" width="3" height="34" fill="#fff"/>
<rect x="936" y="225" width="1" height="77" fill="#000"/>
<rect x="934" y="226" width="5" height="66" fill="#000"/>
<rect x="944" y="260" width="1" height="33" fill="#000"/>
<rect x="942" y="261" width="5" height="31" fill="#000"/>
<rect x="943" y="262" width="3" height="29" fill="#fff"/>
<rect x="952" y="263" width="1" height="80" fill="#000"/>
<rect x="950" y="265" width="5" height="65" fill="#000"/>
<rect x="960" y="325" width="1" height="64" fill="#000"/>
<rect x="958" y="329" width="5" height="50" fill="#000"/>
<rect x="968" y="422" width="1" height="25" fill="#000"/>
<rect x="966" y="437" width="5" height="10" fill="#000"/>
<rect x="967" y="438" width="3" height="8" fill="#fff"/>
<rect x="976" y="421" width="1" height="144" fill="#000"/>
<rect x="974" y="435" width="5" height="41" fill="#000"/>
<rect x="984" y="345" width="1" height="150" fill="#000"/>
<rect x="982" y="385" width="5" height="91" fill="#000"/>
<rect x="983" y="386" width="3" height="89" fill="#fff"/>
<rect x="992" y="372" width="1" height="58" fill="#000"/>
<rect x="990" y="387" width="5" height="23" fill="#000"/>
<rect x="1000" y="336" width="1" height="141" fill="#000"/>
<rect x="998" y="403" width="5" height="3" fill="#000"/>
<rect x="999" y="404" width="3" height="1" fill="#fff"/>
<rect x="1008" y="239" width="1" height="163" fill="#000"/>
<rect x="1006" y="241" width="5" height="161" fill="#000"/>
<rect x="1007" y="242" width="3" height="159" fill="#fff"/>
<rect x="1016" y="302" width="1" height="53" fill="#000"/>
<rect x="1014" y="318" width="5" height="6" fill="#000"/>
<rect x="1015" y="319" width="3" height="4" fill="#fff"/>
<rect x="1024" y="268" width="1" height="113" fill="#000"/>
<rect x="1022" y="318" width="5" height="14" fill="#000"/>
<rect x="1032" y="254" width="1" height="84" fill="#000"/>
<rect x="1030" y="277" width="5" height="55" fill="#000"/>
<rect x="1031" y="278" width="3" height="53" fill="#fff"/>
<rect x="1040" y="218" width="1" height="89" fill="#000"/>
<rect x="1038" y="231" width="5" height="47" fill="#000"/>
<rect x="1039" y="232" width="3" height="45" fill="#fff"/>
<rect x="1048" y="92" width="1" height="148" fill="#000"/>
<rect x="1046" y="96" width="5" height="136" fill="#000"/>
<rect x="1047" y="97" width="3" height="134" fill="#fff"/>
<rect x="1056" y="85" width="1" height="103" fill="#000"/>
<rect x="1054" y="94" width="5" height="8" fill="#000"/>
<rect x="1064" y="105" width="1" height="38" fill="#000"/>
<rect x="1062" y="106" width="5" height="33" fill="#000"/>
<rect x="1072" y="81" width="1" height="91" fill="#000"/>
<rect x="1070" y="118" width="5" height="19" fill="#000"/>
<rect x="1071" y="119" width="3" height="17" fill="#fff"/>
<rect x="1080" y="76" width="1" height="76" fill="#000"/>
<rect x="1078" y="103" width="5" height="15" fill="#000"/>
<rect x="1079" y="104" width="3" height="13" fill="#fff"/>
<rect x="1088" y="78" width="1" height="44" fill="#000"/>
<rect x="1086" y="104" width="5" height="14" fill="#000"/>
<rect x="1096" y="111" width="1" height="88" fill="#000"/>
<rect x="1094" y="115" width="5" height="83" fill="#000"/>
<rect x="1104" y="184" width="1" height="76" fill="#000"/>
<rect x="1102" y="194" width="5" height="65" fill="#000"/>
<rect x="1112" y="259" width="1" height="20" fill="#000"/>
<rect x="1110" y="264" width="5" height="10" fill="#000"/>
<rect x="1120" y="234" width="1" height="56" fill="#000"/>
<rect x="1118" y="246" width="5" height="28" fill="#000"/>
<rect x="1119" y="247" width="3" height="26" fill="#fff"/>
<rect x="1128" y="214" width="1" height="63" fill="#000"/>
<rect x="1126" y="244" width="5" height="28" fill="#000"/>
<rect x="1136" y="251" width="1" height="48" fill="#000"/>
<rect x="1134" y="271" width="5" height="11" fill="#000"/>
<rect x="1144" y="240" width="1" height="55" fill="#000"/>
<rect x="1142" y="248" width="5" height="34" fill="#000"/>
<rect x="1143" y="249" width="3" height="32" fill="#fff"/>
<rect x="1152" y="217" width="1" height="41" fill="#000"/>
<rect x="1150" y="235" width="5" height="12" fill="#000"/>
<rect x="1151" y="236" width="3" height="10" fill="#fff"/>
<rect x="1160" y="214" width="1" height="13" fill="#000"/>
<rect x="1158" y="215" width="5" height="12" fill="#000"/>
<rect x="1159" y="216" width="3" height="10" fill="#fff"/>
<rect x="1168" y="184" width="1" height="34" fill="#000"/>
<rect x="1166" y="197" width="5" height="19" fill="#000"/>
<rect x="1167" y="198" width="3" height="17" fill="#fff"/>
<rect x="1176" y="192" width="1" height="29" fill="#000"/>
<rect x="1174" y="196" width="5" height="22" fill="#000"/>
<rect x="1184" y="195" width="1" height="30" fill="#000"/>
<rect x="1182" y="205" width="5" height="12" fill="#000"/>
<rect x="1183" y="206" width="3" height="10" fill="#fff"/>
<rect x="1192" y="200" width="1" height="39" fill="#000"/>
<rect x="1190" y="205" width="5" height="23" fill="#000"/>
<rect x="1200" y="230" width="1" height="7" fill="#000"/>
<rect x="1198" y="232" width="5" height="1" fill="#000"/>
<rect x="1208" y="230" width="1" height="35" fill="#000"/>
<rect x="1206" y="232" width="5" height="34" fill="#000"/>
<rect x="1216" y="259" width="1" height="31" fill="#000"/>
<rect x="1214" y="265" width="5" height="22" fill="#000"/>
<rect x="1224" y="255" width="1" height="35" fill="#000"/>
<rect x="1222" y="267" width="5" height="22" fill="#000"/>
<rect x="1223" y="268" width="3" height="20" fill="#fff"/>
<rect x="1232" y="244" width="1" height="44" fill="#000"/>
<rect x="1230" y="252" width="5" height="14" fill="#000"/>
<rect x="1231" y="253" width="3" height="12" fill="#fff"/>
<rect x="1240" y="250" width="1" height="32" fill="#000"/>
<rect x="1238" y="251" width="5" height="17" fill="#000"/>
<rect x="1248" y="262" width="1" height="6" fill="#000"/>
<rect x="1246" y="262" width="5" height="3" fill="#000"/>
<rect x="1247" y="263" width="3" height="1" fill="#fff"/>
<rect x="1256" y="250" width="1" height="15" fill="#000"/>
<rect x="1254" y="262" width="5" height="1" fill="#000"/>
<rect x="1264" y="253" width="1" height="29" fill="#000"/>
<rect x="1262" y="262" width="5" height="2" fill="#000"/>
<rect x="1272" y="251" width="1" height="21" fill="#000"/>
<rect x="1270" y="256" width="5" height="6" fill="#000"/>
<rect x="1280" y="246" width="1" height="33" fill="#000"/>
<rect x="1278" y="254" width="5" height="11" fill="#000"/>
<rect x="1288" y="259" width="1" height="18" fill="#000"/>
<rect x="1286" y="263" width="5" height="12" fill="#000"/>
<rect x="1296" y="270" width="1" height="6" fill="#000"/>
<rect x="1294" y="271" width="5" height="3" fill="#000"/>
<rect x="1295" y="272" width="3" height="1" fill="#fff"/>
<rect x="1304" y="266" width="1" height="24" fill="#000"/>
<rect x="1302" y="271" width="5" height="11" fill="#000"/>
<rect x="1312" y="279" width="1" height="24" fill="#000"/>
<rect x="1310" y="281" width="5" height="22" fill="#000"/>
<rect x="1320" y="304" width="1" height="21" fill="#000"/>
<rect x="1318" y="305" width="5" height="8" fill="#000"/>
<rect x="1328" y="271" width="1" height="51" fill="#000"/>
<rect x="1326" y="282" width="5" height="31" fill="#000"/>
<rect x="1327" y="283" width="3" height="29" fill="#fff"/>
<rect x="1336" y="277" width="1" height="37" fill="#000"/>
<rect x="1334" y="284" width="5" height="18" fill="#000"/>
<rect x="1344" y="301" width="1" height="8" fill="#000"/>
<rect x="1342" y="302" width="5" height="6" fill="#000"/>
<rect x="1352" y="306" width="1" height="6" fill="#000"/>
<rect x="1350" y="307" width="5" height="3" fill="#000"/>
<rect x="1360" y="301" width="1" height="21" fill="#000"/>
<rect x="1358" y="309" width="5" height="8" fill="#000"/>
</g>
<line x1="1147.6" y1="179.9" x2="1484.5" y2="340.1" stroke="#0000ff" stroke-width="3.2"/><polygon points="1489.7,342.6 1477.3,341.8 1481.4,338.6 1481.3,333.5" fill="#0000ff"/>
<line x1="1177.2" y1="189.1" x2="1214.9" y2="284.4" stroke="#ff0000" stroke-width="3.2"/><polygon points="1216.8,289.3 1208.5,281.3 1213.7,281.5 1217.4,277.8" fill="#ff0000"/>
<line x1="1216.8" y1="289.3" x2="1277.9" y2="255.7" stroke="#ff0000" stroke-width="3.2"/><polygon points="1282.5,253.2 1275.6,262.5 1275.1,257.2 1271.0,254.0" fill="#ff0000"/>
<line x1="1282.5" y1="253.2" x2="1312.6" y2="312.6" stroke="#ff0000" stroke-width="3.2"/><polygon points="1315.0,317.3 1306.0,310.1 1311.2,309.8 1314.5,305.8" fill="#ff0000"/>
<line x1="1315.0" y1="317.3" x2="1337.6" y2="278.7" stroke="#ff0000" stroke-width="3.2"/><polygon points="1340.3,274.2 1339.1,285.7 1336.0,281.4 1330.8,280.8" fill="#ff0000"/>
<line x1="1340.3" y1="274.2" x2="1382.7" y2="354.1" stroke="#ff0000" stroke-width="3.2"/><polygon points="1385.2,358.7 1376.0,351.7 1381.3,351.3 1384.5,347.2" fill="#ff0000"/>
<rect x="1173" y="291" width="256" height="10" fill="#00ff00" shape-rendering="crispEdges"/>
<rect x="1465" y="295" width="8" height="1" fill="#ff0000"/>
<rect x="1472.5" y="293.5" width="2" height="4" fill="#fff" stroke="#ff0000" stroke-width="1"/>
<rect x="1475.5" y="283.5" width="73" height="24" fill="#fff" stroke="#ff0000" stroke-width="1"/>
<text x="1512" y="303.8" text-anchor="middle" font-size="21.5px" fill="#ff0000" stroke="#ff0000" stroke-width="0.3" textLength="70" lengthAdjust="spacingAndGlyphs">106.981</text>
<text x="1384.5" y="261.5" font-size="32px" font-weight="600" fill="#000" font-family='"Liberation Serif","Noto Serif CJK SC",serif' textLength="160">多空转折点</text>
<text x="1383.5" y="260.5" font-size="32px" font-weight="600" fill="#00ff00" font-family='"Liberation Serif","Noto Serif CJK SC",serif' textLength="160">多空转折点</text>
<polygon points="1375.7,26 1385.3,26 1380.5,31" fill="#c0c0c0"/>
</g>
<g clip-path="url(#c2)">
<g shape-rendering="crispEdges">
<rect x="0" y="616" width="1" height="23" fill="#c0c0c0"/>
<rect x="8" y="616" width="1" height="23" fill="#c0c0c0"/>
<rect x="16" y="616" width="1" height="23" fill="#c0c0c0"/>
<rect x="24" y="616" width="1" height="23" fill="#c0c0c0"/>
<rect x="32" y="616" width="1" height="23" fill="#c0c0c0"/>
<rect x="40" y="616" width="1" height="23" fill="#c0c0c0"/>
<rect x="48" y="615" width="1" height="24" fill="#c0c0c0"/>
<rect x="56" y="615" width="1" height="24" fill="#c0c0c0"/>
<rect x="64" y="615" width="1" height="24" fill="#c0c0c0"/>
<rect x="72" y="615" width="1" height="24" fill="#c0c0c0"/>
<rect x="80" y="615" width="1" height="24" fill="#c0c0c0"/>
<rect x="88" y="622" width="1" height="17" fill="#c0c0c0"/>
<rect x="96" y="624" width="1" height="15" fill="#c0c0c0"/>
<rect x="104" y="627" width="1" height="12" fill="#c0c0c0"/>
<rect x="112" y="627" width="1" height="12" fill="#c0c0c0"/>
<rect x="120" y="623" width="1" height="16" fill="#c0c0c0"/>
<rect x="128" y="622" width="1" height="17" fill="#c0c0c0"/>
<rect x="136" y="620" width="1" height="19" fill="#c0c0c0"/>
<rect x="144" y="619" width="1" height="20" fill="#c0c0c0"/>
<rect x="152" y="618" width="1" height="21" fill="#c0c0c0"/>
<rect x="160" y="619" width="1" height="20" fill="#c0c0c0"/>
<rect x="168" y="619" width="1" height="20" fill="#c0c0c0"/>
<rect x="176" y="620" width="1" height="19" fill="#c0c0c0"/>
<rect x="184" y="625" width="1" height="14" fill="#c0c0c0"/>
<rect x="192" y="626" width="1" height="13" fill="#c0c0c0"/>
<rect x="200" y="628" width="1" height="11" fill="#c0c0c0"/>
<rect x="208" y="629" width="1" height="10" fill="#c0c0c0"/>
<rect x="216" y="632" width="1" height="7" fill="#c0c0c0"/>
<rect x="224" y="634" width="1" height="5" fill="#c0c0c0"/>
<rect x="232" y="636" width="1" height="3" fill="#c0c0c0"/>
<rect x="240" y="636" width="1" height="3" fill="#c0c0c0"/>
<rect x="248" y="635" width="1" height="4" fill="#c0c0c0"/>
<rect x="256" y="633" width="1" height="6" fill="#c0c0c0"/>
<rect x="264" y="632" width="1" height="7" fill="#c0c0c0"/>
<rect x="272" y="630" width="1" height="9" fill="#c0c0c0"/>
<rect x="280" y="627" width="1" height="12" fill="#c0c0c0"/>
<rect x="288" y="624" width="1" height="15" fill="#c0c0c0"/>
<rect x="296" y="623" width="1" height="16" fill="#c0c0c0"/>
<rect x="304" y="625" width="1" height="14" fill="#c0c0c0"/>
<rect x="312" y="629" width="1" height="10" fill="#c0c0c0"/>
<rect x="320" y="632" width="1" height="7" fill="#c0c0c0"/>
<rect x="328" y="633" width="1" height="6" fill="#c0c0c0"/>
<rect x="336" y="636" width="1" height="3" fill="#c0c0c0"/>
<rect x="344" y="636" width="1" height="3" fill="#c0c0c0"/>
<rect x="368" y="638" width="1" height="2" fill="#c0c0c0"/>
<rect x="376" y="636" width="1" height="3" fill="#c0c0c0"/>
<rect x="384" y="635" width="1" height="4" fill="#c0c0c0"/>
<rect x="392" y="633" width="1" height="6" fill="#c0c0c0"/>
<rect x="400" y="630" width="1" height="9" fill="#c0c0c0"/>
<rect x="408" y="628" width="1" height="11" fill="#c0c0c0"/>
<rect x="416" y="627" width="1" height="12" fill="#c0c0c0"/>
<rect x="424" y="627" width="1" height="12" fill="#c0c0c0"/>
<rect x="432" y="626" width="1" height="13" fill="#c0c0c0"/>
<rect x="440" y="626" width="1" height="13" fill="#c0c0c0"/>
<rect x="448" y="627" width="1" height="12" fill="#c0c0c0"/>
<rect x="456" y="627" width="1" height="12" fill="#c0c0c0"/>
<rect x="464" y="628" width="1" height="11" fill="#c0c0c0"/>
<rect x="472" y="627" width="1" height="12" fill="#c0c0c0"/>
<rect x="480" y="627" width="1" height="12" fill="#c0c0c0"/>
<rect x="488" y="628" width="1" height="11" fill="#c0c0c0"/>
<rect x="496" y="632" width="1" height="7" fill="#c0c0c0"/>
<rect x="504" y="637" width="1" height="2" fill="#c0c0c0"/>
<rect x="520" y="638" width="1" height="4" fill="#c0c0c0"/>
<rect x="528" y="638" width="1" height="9" fill="#c0c0c0"/>
<rect x="536" y="638" width="1" height="14" fill="#c0c0c0"/>
<rect x="544" y="638" width="1" height="15" fill="#c0c0c0"/>
<rect x="552" y="638" width="1" height="17" fill="#c0c0c0"/>
<rect x="560" y="638" width="1" height="14" fill="#c0c0c0"/>
<rect x="568" y="638" width="1" height="8" fill="#c0c0c0"/>
<rect x="576" y="638" width="1" height="3" fill="#c0c0c0"/>
<rect x="592" y="633" width="1" height="6" fill="#c0c0c0"/>
<rect x="600" y="629" width="1" height="10" fill="#c0c0c0"/>
<rect x="608" y="626" width="1" height="13" fill="#c0c0c0"/>
<rect x="616" y="623" width="1" height="16" fill="#c0c0c0"/>
<rect x="624" y="620" width="1" height="19" fill="#c0c0c0"/>
<rect x="632" y="618" width="1" height="21" fill="#c0c0c0"/>
<rect x="640" y="616" width="1" height="23" fill="#c0c0c0"/>
<rect x="648" y="618" width="1" height="21" fill="#c0c0c0"/>
<rect x="656" y="620" width="1" height="19" fill="#c0c0c0"/>
<rect x="664" y="622" width="1" height="17" fill="#c0c0c0"/>
<rect x="672" y="626" width="1" height="13" fill="#c0c0c0"/>
<rect x="680" y="632" width="1" height="7" fill="#c0c0c0"/>
<rect x="688" y="636" width="1" height="3" fill="#c0c0c0"/>
<rect x="712" y="638" width="1" height="4" fill="#c0c0c0"/>
<rect x="720" y="638" width="1" height="9" fill="#c0c0c0"/>
<rect x="728" y="638" width="1" height="12" fill="#c0c0c0"/>
<rect x="736" y="638" width="1" height="13" fill="#c0c0c0"/>
<rect x="744" y="638" width="1" height="10" fill="#c0c0c0"/>
<rect x="752" y="638" width="1" height="5" fill="#c0c0c0"/>
<rect x="768" y="636" width="1" height="3" fill="#c0c0c0"/>
<rect x="776" y="634" width="1" height="5" fill="#c0c0c0"/>
<rect x="784" y="632" width="1" height="7" fill="#c0c0c0"/>
<rect x="792" y="630" width="1" height="9" fill="#c0c0c0"/>
<rect x="800" y="630" width="1" height="9" fill="#c0c0c0"/>
<rect x="808" y="629" width="1" height="10" fill="#c0c0c0"/>
<rect x="816" y="629" width="1" height="10" fill="#c0c0c0"/>
<rect x="824" y="629" width="1" height="10" fill="#c0c0c0"/>
<rect x="832" y="627" width="1" height="12" fill="#c0c0c0"/>
<rect x="840" y="628" width="1" height="11" fill="#c0c0c0"/>
<rect x="848" y="620" width="1" height="19" fill="#c0c0c0"/>
<rect x="856" y="610" width="1" height="29" fill="#c0c0c0"/>
<rect x="864" y="604" width="1" height="35" fill="#c0c0c0"/>
<rect x="872" y="601" width="1" height="38" fill="#c0c0c0"/>
<rect x="880" y="602" width="1" height="37" fill="#c0c0c0"/>
<rect x="888" y="608" width="1" height="31" fill="#c0c0c0"/>
<rect x="896" y="612" width="1" height="27" fill="#c0c0c0"/>
<rect x="904" y="618" width="1" height="21" fill="#c0c0c0"/>
<rect x="912" y="635" width="1" height="4" fill="#c0c0c0"/>
<rect x="920" y="638" width="1" height="9" fill="#c0c0c0"/>
<rect x="928" y="638" width="1" height="15" fill="#c0c0c0"/>
<rect x="936" y="638" width="1" height="27" fill="#c0c0c0"/>
<rect x="944" y="638" width="1" height="33" fill="#c0c0c0"/>
<rect x="952" y="638" width="1" height="46" fill="#c0c0c0"/>
<rect x="960" y="638" width="1" height="61" fill="#c0c0c0"/>
<rect x="968" y="638" width="1" height="79" fill="#c0c0c0"/>
<rect x="976" y="638" width="1" height="98" fill="#c0c0c0"/>
<rect x="984" y="638" width="1" height="100" fill="#c0c0c0"/>
<rect x="992" y="638" width="1" height="103" fill="#c0c0c0"/>
<rect x="1000" y="638" width="1" height="104" fill="#c0c0c0"/>
<rect x="1008" y="638" width="1" height="84" fill="#c0c0c0"/>
<rect x="1016" y="638" width="1" height="76" fill="#c0c0c0"/>
<rect x="1024" y="638" width="1" height="71" fill="#c0c0c0"/>
<rect x="1032" y="638" width="1" height="60" fill="#c0c0c0"/>
<rect x="1040" y="638" width="1" height="45" fill="#c0c0c0"/>
<rect x="1048" y="638" width="1" height="16" fill="#c0c0c0"/>
<rect x="1056" y="632" width="1" height="7" fill="#c0c0c0"/>
<rect x="1064" y="620" width="1" height="19" fill="#c0c0c0"/>
<rect x="1072" y="608" width="1" height="31" fill="#c0c0c0"/>
<rect x="1080" y="597" width="1" height="42" fill="#c0c0c0"/>
<rect x="1088" y="590" width="1" height="49" fill="#c0c0c0"/>
<rect x="1096" y="594" width="1" height="45" fill="#c0c0c0"/>
<rect x="1104" y="606" width="1" height="33" fill="#c0c0c0"/>
<rect x="1112" y="618" width="1" height="21" fill="#c0c0c0"/>
<rect x="1120" y="624" width="1" height="15" fill="#c0c0c0"/>
<rect x="1128" y="632" width="1" height="7" fill="#c0c0c0"/>
<rect x="1168" y="634" width="1" height="5" fill="#c0c0c0"/>
<rect x="1176" y="632" width="1" height="7" fill="#c0c0c0"/>
<rect x="1184" y="632" width="1" height="7" fill="#c0c0c0"/>
<rect x="1192" y="634" width="1" height="5" fill="#c0c0c0"/>
<rect x="1200" y="636" width="1" height="3" fill="#c0c0c0"/>
<rect x="1216" y="638" width="1" height="9" fill="#c0c0c0"/>
<rect x="1224" y="638" width="1" height="11" fill="#c0c0c0"/>
<rect x="1232" y="638" width="1" height="11" fill="#c0c0c0"/>
<rect x="1240" y="638" width="1" height="13" fill="#c0c0c0"/>
<rect x="1248" y="638" width="1" height="14" fill="#c0c0c0"/>
<rect x="1256" y="638" width="1" height="14" fill="#c0c0c0"/>
<rect x="1264" y="638" width="1" height="14" fill="#c0c0c0"/>
<rect x="1272" y="638" width="1" height="14" fill="#c0c0c0"/>
<rect x="1280" y="638" width="1" height="14" fill="#c0c0c0"/>
<rect x="1288" y="638" width="1" height="15" fill="#c0c0c0"/>
<rect x="1296" y="638" width="1" height="15" fill="#c0c0c0"/>
<rect x="1304" y="638" width="1" height="17" fill="#c0c0c0"/>
<rect x="1312" y="638" width="1" height="21" fill="#c0c0c0"/>
<rect x="1320" y="638" width="1" height="24" fill="#c0c0c0"/>
<rect x="1328" y="638" width="1" height="23" fill="#c0c0c0"/>
<rect x="1336" y="638" width="1" height="24" fill="#c0c0c0"/>
<rect x="1344" y="638" width="1" height="26" fill="#c0c0c0"/>
<rect x="1352" y="638" width="1" height="26" fill="#c0c0c0"/>
<rect x="1360" y="638" width="1" height="28" fill="#c0c0c0"/>
</g>
<polyline points="0.0,624.5 24.0,618.2 44.8,615.1 80.0,615.1 109.6,618.7 128.0,621.2 160.0,622.0 176.0,621.2 200.0,621.5 220.0,624.5 248.0,630.9 264.0,632.7 280.0,632.2 300.0,629.6 328.0,627.6 352.0,629.6 364.8,633.5 380.0,636.0 395.2,636.0 416.0,634.2 440.0,629.6 464.0,626.6 488.0,626.6 512.0,630.9 528.0,634.7 544.0,641.0 560.0,645.6 576.0,647.6 592.0,646.1 608.0,641.0 624.0,633.9 640.0,626.6 656.0,622.0 672.0,620.2 688.0,622.0 704.0,627.6 720.0,632.9 736.0,639.8 744.0,642.3 760.0,644.3 776.0,643.1 792.0,641.0 808.0,635.5 824.0,631.6 840.0,629.1 856.0,625.8 872.0,619.5 888.0,615.1 896.0,611.8 912.0,611.3 928.0,619.5 944.0,633.5 960.0,653.7 976.0,677.9 992.0,699.5 1008.0,717.2 1024.0,724.3 1032.0,724.3 1040.0,719.8 1056.0,700.7 1072.0,672.8 1088.0,642.3 1104.0,620.7 1120.0,610.1 1128.0,609.3 1144.0,615.1 1160.0,625.3 1176.0,633.5 1192.0,635.5 1208.0,636.5 1224.0,638.5 1232.0,639.8 1240.0,641.5 1256.0,644.8 1272.0,649.4 1288.0,651.2 1304.0,653.0 1320.0,655.0 1336.0,657.0 1352.0,658.8 1356.8,660.5" fill="none" stroke="#ff0000" stroke-width="1" stroke-dasharray="3,3"/>
</g>
<g clip-path="url(#c3)">
<line x1="1" y1="788.5" x2="1607" y2="788.5" stroke="#c0c0c0" stroke-width="1" stroke-dasharray="3,3" shape-rendering="crispEdges"/>
<line x1="1" y1="839.5" x2="1607" y2="839.5" stroke="#c0c0c0" stroke-width="1" stroke-dasharray="3,3" shape-rendering="crispEdges"/>
<line x1="1" y1="900.5" x2="1607" y2="900.5" stroke="#c0c0c0" stroke-width="1" stroke-dasharray="3,3" shape-rendering="crispEdges"/>
<polyline points="0.5,824.4 8.5,825.7 16.5,821.7 24.5,825.7 32.5,822.9 40.5,822.7 48.5,820.9 56.5,819.6 64.5,814.5 72.5,818.4 80.5,821.9 88.5,848.6 96.5,839.9 104.5,841.7 112.5,829.0 120.5,819.6 128.5,826.5 136.5,819.4 144.5,822.7 152.5,821.7 160.5,826.0 168.5,828.5 176.5,835.4 184.5,844.8 192.5,834.4 200.5,838.4 208.5,839.7 216.5,845.5 224.5,845.8 232.5,841.7 240.5,839.2 248.5,836.6 256.5,827.8 264.5,824.4 272.5,816.3 280.5,812.5 288.5,814.8 296.5,813.5 304.5,835.4 312.5,847.6 320.5,841.5 328.5,845.0 336.5,850.9 344.5,847.6 352.5,848.8 360.5,841.7 368.5,849.6 376.5,823.4 384.5,826.5 392.5,824.7 400.5,819.4 408.5,822.7 416.5,821.7 424.5,827.5 432.5,825.7 440.5,824.7 448.5,829.3 456.5,831.8 464.5,830.8 472.5,824.7 480.5,831.6 488.5,829.8 496.5,853.1 504.5,861.5 512.5,855.7 520.5,861.0 528.5,873.5 536.5,874.7 544.5,855.7 552.5,865.8 560.5,836.1 568.5,826.7 576.5,825.5 584.5,825.5 592.5,816.8 600.5,821.7 608.5,820.6 616.5,814.8 624.5,816.8 632.5,815.8 640.5,815.8 648.5,825.2 656.5,831.1 664.5,837.1 672.5,846.8 680.5,857.5 688.5,853.7 696.5,846.5 704.5,850.4 712.5,853.7 720.5,865.3 728.5,864.6 736.5,855.2 744.5,832.3 752.5,824.4 760.5,822.7 768.5,828.5 776.5,831.8 784.5,829.0 792.5,826.5 800.5,826.5 808.5,829.8 816.5,829.8 824.5,828.5 832.5,827.2 840.5,824.4 848.5,798.5 856.5,789.7 864.5,802.4 872.5,803.6 880.5,823.2 888.5,836.6 896.5,835.4 904.5,850.6 912.5,871.4 920.5,873.7 928.5,857.7 936.5,871.7 944.5,860.8 952.5,872.2 960.5,878.0 968.5,884.1 976.5,888.7 984.5,864.6 992.5,867.6 1000.5,865.3 1008.5,835.9 1016.5,846.3 1024.5,848.6 1032.5,839.7 1040.5,833.3 1048.5,817.6 1056.5,819.4 1064.5,825.5 1072.5,822.7 1080.5,821.7 1088.5,823.4 1096.5,837.9 1104.5,845.8 1112.5,848.8 1120.5,843.7 1128.5,847.3 1136.5,848.8 1144.5,843.0 1152.5,840.4 1160.5,836.6 1168.5,833.3 1176.5,837.4 1184.5,835.6 1192.5,840.2 1200.5,842.0 1208.5,848.1 1216.5,852.4 1224.5,847.3 1232.5,843.7 1240.5,846.8 1248.5,845.8 1256.5,845.8 1264.5,845.8 1272.5,843.7 1280.5,846.8 1288.5,849.6 1296.5,847.6 1304.5,851.4 1312.5,858.7 1320.5,860.8 1328.5,847.6 1336.5,853.7 1344.5,855.4 1352.5,855.7 1360.5,859.0" fill="none" stroke="#1e90ff" stroke-width="1" shape-rendering="crispEdges"/>
</g>
<g shape-rendering="crispEdges" fill="#000">
<rect x="0" y="25" width="1608" height="1"/>
<rect x="1607" y="25" width="1" height="902"/>
<rect x="0" y="578" width="1608" height="1"/>
<rect x="0" y="580" width="1608" height="1"/>
<rect x="0" y="750" width="1608" height="1"/>
<rect x="0" y="752" width="1608" height="1"/>
<rect x="0" y="926" width="1608" height="1"/>
<rect x="0" y="927" width="1" height="3"/>
<rect x="64" y="927" width="1" height="3"/>
<rect x="128" y="927" width="1" height="3"/>
<rect x="192" y="927" width="1" height="3"/>
<rect x="256" y="927" width="1" height="3"/>
<rect x="320" y="927" width="1" height="3"/>
<rect x="384" y="927" width="1" height="3"/>
<rect x="448" y="927" width="1" height="3"/>
<rect x="512" y="927" width="1" height="3"/>
<rect x="576" y="927" width="1" height="3"/>
<rect x="640" y="927" width="1" height="3"/>
<rect x="704" y="927" width="1" height="3"/>
<rect x="768" y="927" width="1" height="3"/>
<rect x="832" y="927" width="1" height="3"/>
<rect x="896" y="927" width="1" height="3"/>
<rect x="960" y="927" width="1" height="3"/>
<rect x="1024" y="927" width="1" height="3"/>
<rect x="1088" y="927" width="1" height="3"/>
<rect x="1152" y="927" width="1" height="3"/>
<rect x="1216" y="927" width="1" height="3"/>
<rect x="1280" y="927" width="1" height="3"/>
<rect x="1344" y="927" width="1" height="3"/>
</g>
<g fill="#000">
<rect x="1608" y="47" width="2" height="1" shape-rendering="crispEdges"/>
<text x="1613.5" y="50.6" textLength="32" lengthAdjust="spacingAndGlyphs" stroke="#000" stroke-width="0.22">112.330</text>
<rect x="1608" y="80" width="2" height="1" shape-rendering="crispEdges"/>
<text x="1613.5" y="83.6" textLength="32" lengthAdjust="spacingAndGlyphs" stroke="#000" stroke-width="0.22">111.610</text>
<rect x="1608" y="113" width="2" height="1" shape-rendering="crispEdges"/>
<text x="1613.5" y="116.6" textLength="32" lengthAdjust="spacingAndGlyphs" stroke="#000" stroke-width="0.22">110.910</text>
<rect x="1608" y="146" width="2" height="1" shape-rendering="crispEdges"/>
<text x="1613.5" y="149.6" textLength="32" lengthAdjust="spacingAndGlyphs" stroke="#000" stroke-width="0.22">110.190</text>
<rect x="1608" y="179" width="2" height="1" shape-rendering="crispEdges"/>
<text x="1613.5" y="182.6" textLength="32" lengthAdjust="spacingAndGlyphs" stroke="#000" stroke-width="0.22">109.490</text>
<rect x="1608" y="212" width="2" height="1" shape-rendering="crispEdges"/>
<text x="1613.5" y="215.6" textLength="32" lengthAdjust="spacingAndGlyphs" stroke="#000" stroke-width="0.22">108.770</text>
<rect x="1608" y="245" width="2" height="1" shape-rendering="crispEdges"/>
<text x="1613.5" y="248.6" textLength="32" lengthAdjust="spacingAndGlyphs" stroke="#000" stroke-width="0.22">108.070</text>
<rect x="1608" y="278" width="2" height="1" shape-rendering="crispEdges"/>
<text x="1613.5" y="281.6" textLength="32" lengthAdjust="spacingAndGlyphs" stroke="#000" stroke-width="0.22">107.350</text>
<rect x="1608" y="311" width="2" height="1" shape-rendering="crispEdges"/>
<text x="1613.5" y="314.6" textLength="32" lengthAdjust="spacingAndGlyphs" stroke="#000" stroke-width="0.22">106.630</text>
<rect x="1608" y="344" width="2" height="1" shape-rendering="crispEdges"/>
<text x="1613.5" y="347.6" textLength="32" lengthAdjust="spacingAndGlyphs" stroke="#000" stroke-width="0.22">105.930</text>
<rect x="1608" y="377" width="2" height="1" shape-rendering="crispEdges"/>
<text x="1613.5" y="380.6" textLength="32" lengthAdjust="spacingAndGlyphs" stroke="#000" stroke-width="0.22">105.210</text>
<rect x="1608" y="410" width="2" height="1" shape-rendering="crispEdges"/>
<text x="1613.5" y="413.6" textLength="32" lengthAdjust="spacingAndGlyphs" stroke="#000" stroke-width="0.22">104.510</text>
<rect x="1608" y="443" width="2" height="1" shape-rendering="crispEdges"/>
<text x="1613.5" y="446.6" textLength="32" lengthAdjust="spacingAndGlyphs" stroke="#000" stroke-width="0.22">103.790</text>
<rect x="1608" y="476" width="2" height="1" shape-rendering="crispEdges"/>
<text x="1613.5" y="479.6" textLength="32" lengthAdjust="spacingAndGlyphs" stroke="#000" stroke-width="0.22">103.070</text>
<rect x="1608" y="509" width="2" height="1" shape-rendering="crispEdges"/>
<text x="1613.5" y="512.6" textLength="32" lengthAdjust="spacingAndGlyphs" stroke="#000" stroke-width="0.22">102.370</text>
<rect x="1608" y="542" width="2" height="1" shape-rendering="crispEdges"/>
<text x="1613.5" y="545.6" textLength="32" lengthAdjust="spacingAndGlyphs" stroke="#000" stroke-width="0.22">101.650</text>
<rect x="1608" y="575" width="2" height="1" shape-rendering="crispEdges"/>
<text x="1613.5" y="578.6" textLength="32" lengthAdjust="spacingAndGlyphs" stroke="#000" stroke-width="0.22">100.950</text>
</g>
<rect x="1609" y="242" width="41" height="11" fill="#ff0000" shape-rendering="crispEdges"/>
<text x="1613.5" y="251" fill="#fff" textLength="32.4" lengthAdjust="spacingAndGlyphs" stroke="#fff" stroke-width="0.22">107.992</text>
<rect x="1609" y="266" width="41" height="11" fill="#ff0000" shape-rendering="crispEdges"/>
<text x="1613.5" y="275" fill="#fff" textLength="32.4" lengthAdjust="spacingAndGlyphs" stroke="#fff" stroke-width="0.22">107.476</text>
<rect x="1609" y="289" width="41" height="11" fill="#32cd32" shape-rendering="crispEdges"/>
<text x="1613.5" y="298" fill="#fff" textLength="32.4" lengthAdjust="spacingAndGlyphs" stroke="#fff" stroke-width="0.22">106.981</text>
<rect x="1609" y="311" width="41" height="11" fill="#000000" shape-rendering="crispEdges"/>
<text x="1613.5" y="320" fill="#fff" textLength="32.4" lengthAdjust="spacingAndGlyphs" stroke="#fff" stroke-width="0.22">106.520</text>
<rect x="1609" y="336" width="41" height="11" fill="#0000ff" shape-rendering="crispEdges"/>
<text x="1613.5" y="345" fill="#fff" textLength="32.4" lengthAdjust="spacingAndGlyphs" stroke="#fff" stroke-width="0.22">105.969</text>
<rect x="1609" y="361" width="41" height="11" fill="#0000ff" shape-rendering="crispEdges"/>
<text x="1613.5" y="370" fill="#fff" textLength="32.4" lengthAdjust="spacingAndGlyphs" stroke="#fff" stroke-width="0.22">105.431</text>
<text x="1611.5" y="590.6" fill="#000" textLength="28" lengthAdjust="spacingAndGlyphs" stroke="#000" stroke-width="0.22">0.8034</text>
<rect x="1608" y="638" width="1" height="1" fill="#000" shape-rendering="crispEdges"/>
<text x="1611.5" y="641.6" fill="#000" textLength="18" lengthAdjust="spacingAndGlyphs" stroke="#000" stroke-width="0.22">0.00</text>
<rect x="1608" y="582" width="1" height="1" fill="#000"/><rect x="1608" y="754" width="1" height="1" fill="#000"/>
<text x="1611.5" y="746.6" fill="#000" textLength="31" lengthAdjust="spacingAndGlyphs" stroke="#000" stroke-width="0.22">-1.5784</text>
<text x="1611.5" y="763.6" fill="#000" textLength="14" lengthAdjust="spacingAndGlyphs" stroke="#000" stroke-width="0.22">100</text>
<text x="1611.5" y="792.6" fill="#000" textLength="9.5" lengthAdjust="spacingAndGlyphs" stroke="#000" stroke-width="0.22">80</text>
<text x="1611.5" y="842.6" fill="#000" textLength="9.5" lengthAdjust="spacingAndGlyphs" stroke="#000" stroke-width="0.22">50</text>
<text x="1611.5" y="903.6" fill="#000" textLength="9.5" lengthAdjust="spacingAndGlyphs" stroke="#000" stroke-width="0.22">15</text>
<text x="1611.5" y="922.6" fill="#000" textLength="4.8" lengthAdjust="spacingAndGlyphs" stroke="#000" stroke-width="0.22">0</text>
<text x="4" y="593" fill="#000" textLength="134" lengthAdjust="spacingAndGlyphs" stroke="#000" stroke-width="0.22">MACD(12,26,9) -0.3963 -0.3219</text>
<text x="4" y="765" fill="#000" textLength="68" lengthAdjust="spacingAndGlyphs" stroke="#000" stroke-width="0.22">RSI(14) 39.4245</text>
<polygon points="3,36 10.5,36 6.75,32.3" fill="#000"/>
<text x="15" y="37" fill="#000" textLength="64" lengthAdjust="spacingAndGlyphs" stroke="#000" stroke-width="0.22">USDJPY-,Daily</text>
<text x="85.5" y="37" fill="#000" textLength="140.5" lengthAdjust="spacingAndGlyphs" stroke="#000" stroke-width="0.22">106.686 106.887 106.410 106.520</text>
<text x="-0.2" y="938.6" fill="#000" textLength="50.4" lengthAdjust="spacingAndGlyphs" stroke="#000" stroke-width="0.22">18 Oct 2019</text>
<text x="63.8" y="938.6" fill="#000" textLength="50.4" lengthAdjust="spacingAndGlyphs" stroke="#000" stroke-width="0.22">28 Oct 2019</text>
<text x="127.8" y="938.6" fill="#000" textLength="47.3" lengthAdjust="spacingAndGlyphs" stroke="#000" stroke-width="0.22">6 Nov 2019</text>
<text x="191.8" y="938.6" fill="#000" textLength="52.4" lengthAdjust="spacingAndGlyphs" stroke="#000" stroke-width="0.22">15 Nov 2019</text>
<text x="255.8" y="938.6" fill="#000" textLength="52.4" lengthAdjust="spacingAndGlyphs" stroke="#000" stroke-width="0.22">25 Nov 2019</text>
<text x="319.8" y="938.6" fill="#000" textLength="47.3" lengthAdjust="spacingAndGlyphs" stroke="#000" stroke-width="0.22">4 Dec 2019</text>
<text x="383.8" y="938.6" fill="#000" textLength="52.4" lengthAdjust="spacingAndGlyphs" stroke="#000" stroke-width="0.22">13 Dec 2019</text>
<text x="447.8" y="938.6" fill="#000" textLength="52.4" lengthAdjust="spacingAndGlyphs" stroke="#000" stroke-width="0.22">23 Dec 2019</text>
<text x="511.8" y="938.6" fill="#000" textLength="45.7" lengthAdjust="spacingAndGlyphs" stroke="#000" stroke-width="0.22">1 Jan 2020</text>
<text x="575.8" y="938.6" fill="#000" textLength="50.9" lengthAdjust="spacingAndGlyphs" stroke="#000" stroke-width="0.22">10 Jan 2020</text>
<text x="639.8" y="938.6" fill="#000" textLength="50.9" lengthAdjust="spacingAndGlyphs" stroke="#000" stroke-width="0.22">20 Jan 2020</text>
<text x="703.8" y="938.6" fill="#000" textLength="50.9" lengthAdjust="spacingAndGlyphs" stroke="#000" stroke-width="0.22">29 Jan 2020</text>
<text x="767.8" y="938.6" fill="#000" textLength="46.8" lengthAdjust="spacingAndGlyphs" stroke="#000" stroke-width="0.22">7 Feb 2020</text>
<text x="831.8" y="938.6" fill="#000" textLength="51.9" lengthAdjust="spacingAndGlyphs" stroke="#000" stroke-width="0.22">17 Feb 2020</text>
<text x="895.8" y="938.6" fill="#000" textLength="51.9" lengthAdjust="spacingAndGlyphs" stroke="#000" stroke-width="0.22">26 Feb 2020</text>
<text x="959.8" y="938.6" fill="#000" textLength="46.8" lengthAdjust="spacingAndGlyphs" stroke="#000" stroke-width="0.22">6 Mar 2020</text>
<text x="1023.8" y="938.6" fill="#000" textLength="51.9" lengthAdjust="spacingAndGlyphs" stroke="#000" stroke-width="0.22">16 Mar 2020</text>
<text x="1087.8" y="938.6" fill="#000" textLength="51.9" lengthAdjust="spacingAndGlyphs" stroke="#000" stroke-width="0.22">25 Mar 2020</text>
<text x="1151.8" y="938.6" fill="#000" textLength="44.7" lengthAdjust="spacingAndGlyphs" stroke="#000" stroke-width="0.22">3 Apr 2020</text>
<text x="1215.8" y="938.6" fill="#000" textLength="49.8" lengthAdjust="spacingAndGlyphs" stroke="#000" stroke-width="0.22">14 Apr 2020</text>
<text x="1279.8" y="938.6" fill="#000" textLength="49.8" lengthAdjust="spacingAndGlyphs" stroke="#000" stroke-width="0.22">23 Apr 2020</text>
<text x="1343.8" y="938.6" fill="#000" textLength="48.3" lengthAdjust="spacingAndGlyphs" stroke="#000" stroke-width="0.22">3 May 2020</text>
</svg>
<div id="w">
<div class="ps"><span class="s" style="left:23px">106</span><span class="l" style="left:48px">52</span><span class="u" style="left:87px">0</span></div>
<div class="pb"><span class="s" style="left:22px">106</span><span class="l" style="left:47px">54</span><span class="u" style="left:88px">1</span></div>
<div class="sell">SELL<i></i></div>
<div class="buy">BUY<i></i></div>
<div class="vol"><div class="b" style="left:0"><svg width="17" height="17" style="position:absolute;left:0;top:0"><polygon points="6,7 11,7 8.5,10" fill="#4a5fc0"/></svg></div><div class="f">1.00</div><div class="b" style="left:89px"><svg width="17" height="17" style="position:absolute;left:0;top:0"><polygon points="6,10 11,10 8.5,7" fill="#4a5fc0"/></svg></div></div>
</div>

</body></html>
